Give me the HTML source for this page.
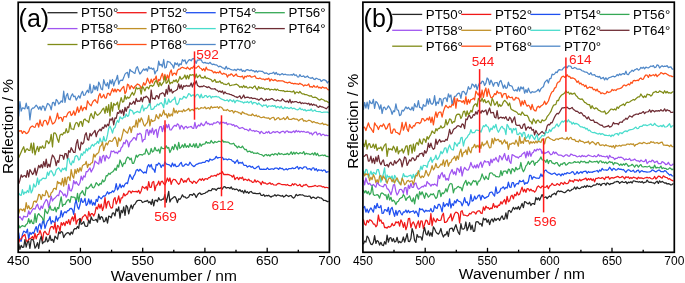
<!DOCTYPE html>
<html><head><meta charset="utf-8"><style>
html,body{margin:0;padding:0;background:#fff;}
svg{display:block;will-change:transform;}
text{font-family:"Liberation Sans",sans-serif;fill:#000;}
</style></head><body>
<svg width="685" height="283" viewBox="0 0 685 283">
<g fill="none" stroke-width="1.25" stroke-linejoin="round">
<path d="M18.7,116.4 L19.9,101.7 L21.2,111.1 L22.4,107.9 L23.7,108.2 L24.9,108.9 L26.2,103.1 L27.4,108.7 L28.7,106.6 L29.9,119.8 L31.2,109.9 L32.5,108.0 L33.7,108.1 L35.0,106.7 L36.2,105.2 L37.5,106.9 L38.7,109.3 L40.0,106.6 L41.2,110.0 L42.5,106.0 L43.7,106.3 L45.0,110.6 L46.2,107.1 L47.5,103.5 L48.7,104.1 L50.0,105.9 L51.2,109.8 L52.5,102.6 L53.7,102.3 L55.0,105.7 L56.2,99.5 L57.5,100.9 L58.7,104.1 L60.0,102.8 L61.2,100.9 L62.5,102.2 L63.7,91.2 L65.0,102.4 L66.2,96.0 L67.5,93.5 L68.7,99.0 L70.0,99.8 L71.2,96.0 L72.5,93.8 L73.7,96.7 L75.0,96.1 L76.2,100.1 L77.5,97.7 L78.7,95.7 L80.0,98.1 L81.2,93.8 L82.5,91.3 L83.7,95.4 L85.0,95.0 L86.2,92.3 L87.5,90.2 L88.7,92.7 L90.0,84.2 L91.2,93.1 L92.5,92.0 L93.7,85.3 L95.0,89.7 L96.2,86.2 L97.5,90.7 L98.7,82.1 L100.0,84.8 L101.2,89.0 L102.5,89.8 L103.7,79.7 L105.0,84.0 L106.2,85.9 L107.5,82.7 L108.7,88.5 L110.0,80.0 L111.2,83.9 L112.5,79.5 L113.7,85.9 L115.0,81.3 L116.2,79.7 L117.5,75.3 L118.7,84.2 L120.0,80.8 L121.2,80.1 L122.5,80.5 L123.7,77.6 L125.0,74.1 L126.2,73.0 L127.5,72.3 L128.7,77.6 L129.9,69.3 L131.2,71.2 L132.4,71.6 L133.7,72.8 L134.9,73.4 L136.2,68.2 L137.4,66.7 L138.7,71.0 L139.9,74.0 L141.2,72.5 L142.4,70.7 L143.7,69.0 L144.9,70.4 L146.2,68.7 L147.4,71.2 L148.7,66.6 L149.9,68.8 L151.2,67.9 L152.4,69.3 L153.7,68.2 L154.9,73.9 L156.2,70.9 L157.4,70.6 L158.7,61.2 L159.9,65.3 L161.2,64.3 L162.4,66.9 L163.7,59.5 L164.9,68.0 L166.2,67.5 L167.4,61.3 L168.7,61.9 L169.9,62.1 L171.2,64.0 L172.4,65.1 L173.7,68.2 L174.9,62.7 L176.2,64.6 L177.4,63.0 L178.7,66.2 L179.9,63.7 L181.2,64.7 L182.4,59.6 L183.7,61.1 L184.9,59.8 L186.2,63.8 L187.4,62.0 L188.7,60.1 L189.9,59.6 L191.2,60.9 L192.4,58.9 L193.7,58.5 L194.9,60.6 L196.2,63.4 L197.4,60.0 L198.7,60.0 L199.9,59.6 L201.2,59.8 L202.4,62.3 L203.7,63.0 L204.9,62.4 L206.2,63.1 L207.4,63.2 L208.7,63.6 L209.9,62.3 L211.2,63.7 L212.4,64.6 L213.7,64.1 L214.9,64.8 L216.2,64.8 L217.4,65.6 L218.7,66.9 L219.9,66.1 L221.2,66.7 L222.4,67.8 L223.7,68.0 L224.9,69.2 L226.2,66.3 L227.4,69.1 L228.7,68.2 L229.9,69.0 L231.2,69.7 L232.4,70.0 L233.7,70.1 L234.9,69.4 L236.2,70.7 L237.4,69.1 L238.7,69.3 L239.9,70.2 L241.2,69.1 L242.4,71.4 L243.7,70.5 L244.9,71.6 L246.2,69.8 L247.4,69.6 L248.7,70.1 L249.9,70.7 L251.2,69.8 L252.4,70.8 L253.7,70.7 L254.9,72.2 L256.2,70.6 L257.4,72.2 L258.7,71.0 L259.9,71.0 L261.2,71.4 L262.4,71.3 L263.7,72.6 L264.9,73.5 L266.2,72.9 L267.4,73.5 L268.7,74.4 L269.9,73.4 L271.2,73.5 L272.4,73.2 L273.7,72.2 L274.9,74.3 L276.2,72.4 L277.4,74.5 L278.7,74.0 L279.9,75.1 L281.2,74.2 L282.4,73.7 L283.7,74.8 L284.9,74.2 L286.2,74.6 L287.4,74.9 L288.7,74.9 L289.9,75.0 L291.2,74.6 L292.4,75.2 L293.7,73.8 L294.9,75.5 L296.2,74.8 L297.4,76.8 L298.7,77.0 L299.9,74.6 L301.2,76.5 L302.4,76.4 L303.7,75.9 L304.9,77.4 L306.2,76.9 L307.4,76.0 L308.7,77.5 L309.9,77.8 L311.2,78.3 L312.4,77.4 L313.7,79.1 L314.9,79.5 L316.2,78.2 L317.4,78.8 L318.7,79.5 L319.9,79.3 L321.2,81.4 L322.4,80.4 L323.7,79.7 L324.9,80.1 L326.2,80.9 L327.4,83.0 L328.7,81.2" stroke="#5088C8"/>
<path d="M18.7,130.4 L19.9,131.3 L21.2,130.6 L22.4,133.4 L23.7,131.2 L24.9,131.9 L26.2,133.6 L27.4,133.2 L28.7,131.5 L29.9,128.1 L31.2,126.6 L32.5,126.0 L33.7,127.0 L35.0,127.4 L36.2,124.1 L37.5,123.1 L38.7,127.1 L40.0,119.9 L41.2,124.7 L42.5,126.1 L43.7,121.2 L45.0,120.3 L46.2,121.0 L47.5,124.8 L48.7,122.0 L50.0,116.1 L51.2,120.1 L52.5,124.0 L53.7,123.4 L55.0,121.8 L56.2,118.6 L57.5,113.2 L58.7,118.8 L60.0,117.3 L61.2,117.5 L62.5,121.4 L63.7,116.8 L65.0,116.5 L66.2,117.0 L67.5,113.9 L68.7,112.2 L70.0,111.5 L71.2,115.5 L72.5,114.3 L73.7,110.9 L75.0,115.3 L76.2,112.0 L77.5,107.0 L78.7,112.4 L80.0,109.8 L81.2,105.8 L82.5,110.8 L83.7,107.9 L85.0,107.3 L86.2,109.7 L87.5,100.9 L88.7,103.0 L90.0,104.8 L91.2,105.9 L92.5,102.4 L93.7,100.7 L95.0,99.7 L96.2,101.6 L97.5,103.1 L98.7,96.1 L100.0,93.5 L101.2,97.8 L102.5,96.8 L103.7,94.5 L105.0,98.1 L106.2,98.0 L107.5,93.4 L108.7,93.4 L110.0,95.4 L111.2,92.0 L112.5,88.7 L113.7,91.9 L115.0,89.0 L116.2,92.0 L117.5,89.3 L118.7,89.8 L120.0,91.5 L121.2,89.4 L122.5,87.7 L123.7,86.4 L125.0,93.6 L126.2,91.6 L127.5,84.2 L128.7,85.1 L129.9,89.2 L131.2,85.7 L132.4,86.9 L133.7,88.7 L134.9,86.4 L136.2,85.3 L137.4,84.0 L138.7,84.6 L139.9,85.5 L141.2,88.6 L142.4,86.4 L143.7,82.7 L144.9,85.2 L146.2,82.7 L147.4,78.1 L148.7,81.3 L149.9,83.7 L151.2,79.2 L152.4,82.8 L153.7,79.1 L154.9,79.6 L156.2,76.0 L157.4,84.0 L158.7,79.4 L159.9,80.4 L161.2,76.3 L162.4,73.3 L163.7,79.7 L164.9,74.4 L166.2,80.0 L167.4,75.0 L168.7,79.1 L169.9,72.8 L171.2,69.9 L172.4,75.5 L173.7,73.3 L174.9,73.1 L176.2,75.0 L177.4,70.4 L178.7,69.2 L179.9,69.1 L181.2,67.8 L182.4,67.2 L183.7,67.9 L184.9,68.2 L186.2,68.8 L187.4,67.1 L188.7,68.6 L189.9,69.6 L191.2,67.6 L192.4,68.3 L193.7,66.1 L194.9,67.8 L196.2,68.1 L197.4,66.8 L198.7,66.0 L199.9,68.0 L201.2,68.5 L202.4,70.4 L203.7,68.6 L204.9,71.1 L206.2,67.2 L207.4,69.7 L208.7,69.8 L209.9,70.2 L211.2,70.4 L212.4,71.1 L213.7,72.9 L214.9,71.7 L216.2,73.1 L217.4,72.3 L218.7,72.9 L219.9,71.1 L221.2,73.5 L222.4,74.3 L223.7,73.2 L224.9,74.1 L226.2,74.2 L227.4,77.1 L228.7,74.8 L229.9,75.2 L231.2,73.8 L232.4,74.8 L233.7,76.3 L234.9,75.2 L236.2,74.0 L237.4,76.1 L238.7,76.5 L239.9,76.6 L241.2,76.8 L242.4,76.0 L243.7,78.9 L244.9,76.2 L246.2,77.0 L247.4,75.7 L248.7,76.3 L249.9,75.6 L251.2,77.2 L252.4,76.8 L253.7,76.5 L254.9,75.8 L256.2,78.1 L257.4,78.4 L258.7,78.6 L259.9,78.0 L261.2,78.8 L262.4,79.2 L263.7,79.0 L264.9,79.9 L266.2,78.8 L267.4,79.3 L268.7,78.1 L269.9,81.2 L271.2,79.1 L272.4,80.1 L273.7,80.6 L274.9,79.6 L276.2,80.4 L277.4,81.2 L278.7,80.7 L279.9,80.8 L281.2,80.9 L282.4,80.8 L283.7,81.4 L284.9,82.1 L286.2,82.3 L287.4,83.0 L288.7,82.4 L289.9,82.1 L291.2,83.4 L292.4,83.2 L293.7,83.9 L294.9,83.4 L296.2,83.9 L297.4,83.9 L298.7,84.4 L299.9,83.2 L301.2,84.2 L302.4,84.6 L303.7,86.1 L304.9,84.9 L306.2,85.5 L307.4,85.2 L308.7,84.0 L309.9,86.9 L311.2,86.6 L312.4,87.3 L313.7,85.5 L314.9,87.0 L316.2,87.2 L317.4,86.0 L318.7,87.9 L319.9,87.2 L321.2,88.4 L322.4,86.9 L323.7,87.7 L324.9,88.1 L326.2,87.7 L327.4,89.1 L328.7,90.3" stroke="#FF5018"/>
<path d="M18.7,157.7 L19.9,155.0 L21.2,151.9 L22.4,149.2 L23.7,146.7 L24.9,152.4 L26.2,149.4 L27.4,148.8 L28.7,150.4 L29.9,150.5 L31.2,143.1 L32.5,152.8 L33.7,143.0 L35.0,154.8 L36.2,150.2 L37.5,146.4 L38.7,151.5 L40.0,146.7 L41.2,148.2 L42.5,145.8 L43.7,148.3 L45.0,147.6 L46.2,140.9 L47.5,141.2 L48.7,143.6 L50.0,141.3 L51.2,134.3 L52.5,146.9 L53.7,133.2 L55.0,132.8 L56.2,134.5 L57.5,139.3 L58.7,142.3 L60.0,135.3 L61.2,134.1 L62.5,135.0 L63.7,132.6 L65.0,133.2 L66.2,128.7 L67.5,132.7 L68.7,131.8 L70.0,122.6 L71.2,128.9 L72.5,129.0 L73.7,129.5 L75.0,124.7 L76.2,122.5 L77.5,123.0 L78.7,126.7 L80.0,121.9 L81.2,121.5 L82.5,126.4 L83.7,120.0 L85.0,119.0 L86.2,120.7 L87.5,120.9 L88.7,122.6 L90.0,116.3 L91.2,113.5 L92.5,117.0 L93.7,118.5 L95.0,111.6 L96.2,113.8 L97.5,115.3 L98.7,114.4 L100.0,113.2 L101.2,111.5 L102.5,109.2 L103.7,108.1 L105.0,113.4 L106.2,106.3 L107.5,112.4 L108.7,104.6 L110.0,116.0 L111.2,102.3 L112.5,111.2 L113.7,103.5 L115.0,105.1 L116.2,104.5 L117.5,102.1 L118.7,109.3 L120.0,102.4 L121.2,97.6 L122.5,102.2 L123.7,101.5 L125.0,95.4 L126.2,99.2 L127.5,97.0 L128.7,98.2 L129.9,97.1 L131.2,94.3 L132.4,92.4 L133.7,95.2 L134.9,92.8 L136.2,87.2 L137.4,89.0 L138.7,88.4 L139.9,88.2 L141.2,94.2 L142.4,86.5 L143.7,88.2 L144.9,90.9 L146.2,87.5 L147.4,87.0 L148.7,88.9 L149.9,85.7 L151.2,85.3 L152.4,86.3 L153.7,85.2 L154.9,82.1 L156.2,80.5 L157.4,82.9 L158.7,86.5 L159.9,82.2 L161.2,85.6 L162.4,83.7 L163.7,81.9 L164.9,76.1 L166.2,83.4 L167.4,82.2 L168.7,78.8 L169.9,84.0 L171.2,82.4 L172.4,83.0 L173.7,80.2 L174.9,81.6 L176.2,79.7 L177.4,82.6 L178.7,80.1 L179.9,76.4 L181.2,79.3 L182.4,78.6 L183.7,77.6 L184.9,75.0 L186.2,79.0 L187.4,75.3 L188.7,78.8 L189.9,74.6 L191.2,75.3 L192.4,74.7 L193.7,74.8 L194.9,78.3 L196.2,74.0 L197.4,77.7 L198.7,76.2 L199.9,75.0 L201.2,77.8 L202.4,77.7 L203.7,78.2 L204.9,76.1 L206.2,78.5 L207.4,78.0 L208.7,78.7 L209.9,79.1 L211.2,79.7 L212.4,81.6 L213.7,80.9 L214.9,79.4 L216.2,82.4 L217.4,81.8 L218.7,82.2 L219.9,80.9 L221.2,83.1 L222.4,82.7 L223.7,84.2 L224.9,84.1 L226.2,84.7 L227.4,84.0 L228.7,83.1 L229.9,85.7 L231.2,85.4 L232.4,85.0 L233.7,84.9 L234.9,84.7 L236.2,84.1 L237.4,84.8 L238.7,85.8 L239.9,87.3 L241.2,86.5 L242.4,87.6 L243.7,85.5 L244.9,87.5 L246.2,86.3 L247.4,88.0 L248.7,87.9 L249.9,87.0 L251.2,87.3 L252.4,88.3 L253.7,86.8 L254.9,85.9 L256.2,88.5 L257.4,89.8 L258.7,86.6 L259.9,88.5 L261.2,87.5 L262.4,88.4 L263.7,88.0 L264.9,89.7 L266.2,88.7 L267.4,89.1 L268.7,88.5 L269.9,90.2 L271.2,89.3 L272.4,89.5 L273.7,89.9 L274.9,88.9 L276.2,90.3 L277.4,89.1 L278.7,90.4 L279.9,90.5 L281.2,90.5 L282.4,90.8 L283.7,90.6 L284.9,91.7 L286.2,91.4 L287.4,91.2 L288.7,91.5 L289.9,91.3 L291.2,91.9 L292.4,91.9 L293.7,90.8 L294.9,93.8 L296.2,92.2 L297.4,92.2 L298.7,93.1 L299.9,91.4 L301.2,93.1 L302.4,94.0 L303.7,93.9 L304.9,94.6 L306.2,94.6 L307.4,95.0 L308.7,95.7 L309.9,96.2 L311.2,95.6 L312.4,97.1 L313.7,97.5 L314.9,97.1 L316.2,97.6 L317.4,98.5 L318.7,99.7 L319.9,100.1 L321.2,98.9 L322.4,99.5 L323.7,99.9 L324.9,101.0 L326.2,101.0 L327.4,101.7 L328.7,102.7" stroke="#808C18"/>
<path d="M18.7,183.8 L19.9,180.2 L21.2,174.8 L22.4,177.1 L23.7,175.9 L24.9,175.5 L26.2,177.3 L27.4,170.6 L28.7,177.0 L29.9,169.6 L31.2,171.8 L32.5,174.5 L33.7,173.0 L35.0,168.1 L36.2,175.1 L37.5,170.1 L38.7,165.3 L40.0,167.8 L41.2,164.5 L42.5,167.8 L43.7,161.6 L45.0,166.7 L46.2,159.1 L47.5,167.3 L48.7,164.1 L50.0,166.9 L51.2,159.9 L52.5,155.0 L53.7,156.6 L55.0,159.4 L56.2,165.6 L57.5,160.7 L58.7,162.3 L60.0,155.0 L61.2,155.5 L62.5,155.4 L63.7,159.4 L65.0,153.5 L66.2,153.7 L67.5,158.9 L68.7,150.7 L70.0,152.4 L71.2,147.7 L72.5,150.1 L73.7,152.4 L75.0,152.5 L76.2,143.9 L77.5,139.6 L78.7,147.8 L80.0,150.2 L81.2,142.2 L82.5,144.1 L83.7,142.5 L85.0,135.1 L86.2,132.7 L87.5,139.4 L88.7,140.1 L90.0,133.3 L91.2,135.9 L92.5,133.7 L93.7,132.3 L95.0,130.4 L96.2,136.7 L97.5,132.4 L98.7,130.8 L100.0,129.1 L101.2,130.8 L102.5,127.3 L103.7,128.3 L105.0,124.7 L106.2,127.0 L107.5,124.2 L108.7,125.8 L110.0,118.8 L111.2,120.1 L112.5,117.9 L113.7,124.9 L115.0,117.8 L116.2,118.3 L117.5,112.5 L118.7,113.4 L120.0,110.1 L121.2,113.3 L122.5,109.6 L123.7,115.3 L125.0,107.3 L126.2,111.3 L127.5,106.9 L128.7,107.6 L129.9,102.7 L131.2,104.3 L132.4,103.4 L133.7,101.2 L134.9,104.4 L136.2,98.4 L137.4,101.5 L138.7,100.9 L139.9,101.3 L141.2,97.5 L142.4,101.9 L143.7,97.2 L144.9,97.6 L146.2,96.2 L147.4,97.2 L148.7,98.8 L149.9,104.9 L151.2,90.0 L152.4,98.8 L153.7,98.2 L154.9,99.3 L156.2,95.7 L157.4,95.8 L158.7,98.7 L159.9,94.0 L161.2,93.7 L162.4,92.8 L163.7,93.5 L164.9,96.4 L166.2,89.3 L167.4,94.2 L168.7,85.1 L169.9,91.7 L171.2,89.2 L172.4,93.0 L173.7,91.5 L174.9,91.0 L176.2,90.2 L177.4,89.3 L178.7,83.9 L179.9,88.5 L181.2,84.9 L182.4,89.3 L183.7,85.7 L184.9,86.6 L186.2,85.4 L187.4,86.1 L188.7,85.9 L189.9,86.1 L191.2,83.0 L192.4,87.0 L193.7,82.9 L194.9,84.2 L196.2,80.9 L197.4,85.2 L198.7,86.4 L199.9,86.9 L201.2,86.4 L202.4,86.7 L203.7,85.7 L204.9,86.3 L206.2,86.9 L207.4,87.6 L208.7,86.7 L209.9,87.7 L211.2,88.9 L212.4,88.9 L213.7,89.0 L214.9,88.7 L216.2,90.0 L217.4,90.3 L218.7,91.8 L219.9,91.0 L221.2,92.3 L222.4,90.8 L223.7,93.9 L224.9,91.8 L226.2,93.3 L227.4,93.6 L228.7,93.8 L229.9,94.4 L231.2,94.6 L232.4,95.4 L233.7,95.7 L234.9,96.6 L236.2,96.9 L237.4,97.6 L238.7,96.7 L239.9,95.8 L241.2,98.7 L242.4,97.4 L243.7,95.0 L244.9,98.0 L246.2,97.4 L247.4,97.2 L248.7,97.4 L249.9,98.2 L251.2,97.6 L252.4,98.6 L253.7,98.3 L254.9,98.4 L256.2,99.0 L257.4,99.0 L258.7,100.2 L259.9,99.3 L261.2,98.2 L262.4,99.1 L263.7,100.6 L264.9,100.7 L266.2,98.8 L267.4,100.1 L268.7,99.3 L269.9,99.6 L271.2,98.7 L272.4,98.7 L273.7,99.9 L274.9,100.5 L276.2,100.8 L277.4,99.9 L278.7,100.5 L279.9,100.9 L281.2,100.8 L282.4,98.8 L283.7,100.3 L284.9,101.4 L286.2,101.9 L287.4,100.8 L288.7,102.5 L289.9,99.4 L291.2,103.0 L292.4,101.5 L293.7,102.2 L294.9,101.5 L296.2,101.5 L297.4,102.3 L298.7,102.7 L299.9,101.9 L301.2,103.7 L302.4,102.8 L303.7,103.5 L304.9,103.0 L306.2,103.3 L307.4,104.0 L308.7,103.2 L309.9,105.1 L311.2,103.7 L312.4,105.3 L313.7,104.2 L314.9,105.2 L316.2,105.0 L317.4,106.8 L318.7,107.4 L319.9,105.9 L321.2,106.8 L322.4,106.9 L323.7,107.5 L324.9,108.0 L326.2,108.8 L327.4,107.6 L328.7,106.2" stroke="#6E2C34"/>
<path d="M18.7,193.2 L19.9,194.9 L21.2,195.4 L22.4,189.6 L23.7,194.3 L24.9,192.0 L26.2,192.9 L27.4,190.5 L28.7,192.5 L29.9,185.1 L31.2,192.9 L32.5,190.3 L33.7,183.9 L35.0,187.1 L36.2,185.6 L37.5,178.0 L38.7,184.5 L40.0,180.0 L41.2,180.2 L42.5,178.3 L43.7,178.1 L45.0,178.8 L46.2,178.1 L47.5,172.2 L48.7,175.4 L50.0,171.3 L51.2,170.7 L52.5,172.8 L53.7,175.8 L55.0,174.4 L56.2,169.9 L57.5,168.8 L58.7,167.8 L60.0,170.1 L61.2,171.8 L62.5,168.3 L63.7,169.6 L65.0,167.8 L66.2,170.7 L67.5,159.4 L68.7,158.3 L70.0,163.3 L71.2,165.0 L72.5,161.0 L73.7,162.5 L75.0,156.8 L76.2,155.6 L77.5,156.3 L78.7,160.1 L80.0,158.7 L81.2,153.6 L82.5,155.3 L83.7,151.9 L85.0,153.0 L86.2,148.7 L87.5,150.9 L88.7,147.9 L90.0,148.9 L91.2,146.0 L92.5,144.5 L93.7,146.2 L95.0,143.8 L96.2,143.8 L97.5,141.4 L98.7,143.4 L100.0,138.2 L101.2,141.7 L102.5,142.3 L103.7,136.5 L105.0,141.2 L106.2,140.7 L107.5,134.9 L108.7,128.4 L110.0,126.3 L111.2,129.0 L112.5,133.1 L113.7,128.4 L115.0,127.5 L116.2,123.3 L117.5,120.5 L118.7,122.3 L120.0,116.8 L121.2,118.0 L122.5,118.9 L123.7,116.7 L125.0,117.3 L126.2,114.0 L127.5,116.4 L128.7,115.4 L129.9,109.3 L131.2,110.4 L132.4,110.8 L133.7,114.1 L134.9,112.6 L136.2,112.1 L137.4,111.4 L138.7,112.2 L139.9,112.7 L141.2,108.3 L142.4,105.2 L143.7,110.9 L144.9,108.2 L146.2,108.5 L147.4,107.6 L148.7,104.7 L149.9,103.4 L151.2,109.5 L152.4,109.4 L153.7,108.6 L154.9,106.4 L156.2,106.2 L157.4,104.1 L158.7,105.0 L159.9,103.4 L161.2,102.7 L162.4,104.3 L163.7,107.7 L164.9,98.3 L166.2,104.2 L167.4,104.0 L168.7,99.0 L169.9,102.4 L171.2,101.6 L172.4,99.9 L173.7,99.5 L174.9,97.1 L176.2,103.8 L177.4,104.7 L178.7,102.7 L179.9,98.4 L181.2,99.2 L182.4,99.0 L183.7,96.4 L184.9,97.1 L186.2,98.2 L187.4,96.2 L188.7,93.6 L189.9,94.2 L191.2,96.3 L192.4,95.1 L193.7,94.9 L194.9,97.2 L196.2,95.3 L197.4,94.3 L198.7,95.2 L199.9,98.0 L201.2,94.2 L202.4,97.7 L203.7,97.3 L204.9,95.6 L206.2,95.5 L207.4,97.4 L208.7,96.3 L209.9,95.7 L211.2,98.0 L212.4,96.5 L213.7,96.8 L214.9,96.6 L216.2,96.4 L217.4,97.0 L218.7,96.9 L219.9,98.0 L221.2,98.9 L222.4,99.4 L223.7,99.9 L224.9,100.6 L226.2,100.4 L227.4,99.8 L228.7,101.5 L229.9,99.6 L231.2,100.6 L232.4,101.6 L233.7,100.0 L234.9,102.8 L236.2,100.7 L237.4,100.4 L238.7,101.1 L239.9,101.2 L241.2,101.9 L242.4,101.9 L243.7,103.0 L244.9,102.0 L246.2,102.4 L247.4,101.5 L248.7,102.9 L249.9,102.0 L251.2,101.2 L252.4,104.1 L253.7,102.4 L254.9,102.6 L256.2,103.0 L257.4,104.6 L258.7,103.0 L259.9,104.2 L261.2,105.2 L262.4,106.6 L263.7,105.0 L264.9,105.5 L266.2,104.9 L267.4,107.4 L268.7,105.8 L269.9,106.0 L271.2,106.3 L272.4,105.6 L273.7,106.4 L274.9,105.5 L276.2,107.9 L277.4,106.7 L278.7,106.8 L279.9,108.0 L281.2,106.2 L282.4,108.4 L283.7,108.7 L284.9,106.9 L286.2,108.2 L287.4,107.7 L288.7,108.6 L289.9,108.1 L291.2,107.4 L292.4,108.8 L293.7,108.2 L294.9,108.7 L296.2,109.5 L297.4,109.8 L298.7,109.4 L299.9,107.9 L301.2,109.7 L302.4,109.1 L303.7,110.4 L304.9,109.5 L306.2,111.0 L307.4,110.4 L308.7,110.1 L309.9,110.5 L311.2,109.0 L312.4,111.1 L313.7,110.8 L314.9,110.0 L316.2,111.4 L317.4,111.5 L318.7,111.7 L319.9,111.5 L321.2,112.3 L322.4,112.5 L323.7,112.1 L324.9,112.1 L326.2,112.0 L327.4,112.0 L328.7,113.1" stroke="#48DCCC"/>
<path d="M18.7,213.7 L19.9,209.2 L21.2,209.2 L22.4,210.6 L23.7,208.8 L24.9,211.7 L26.2,202.7 L27.4,208.7 L28.7,205.7 L29.9,209.0 L31.2,208.4 L32.5,206.7 L33.7,201.6 L35.0,201.0 L36.2,202.4 L37.5,199.6 L38.7,194.3 L40.0,194.8 L41.2,199.5 L42.5,194.3 L43.7,195.7 L45.0,195.7 L46.2,190.5 L47.5,192.7 L48.7,197.1 L50.0,196.4 L51.2,192.7 L52.5,191.8 L53.7,188.5 L55.0,188.3 L56.2,189.5 L57.5,181.3 L58.7,183.5 L60.0,182.6 L61.2,185.0 L62.5,178.3 L63.7,186.2 L65.0,177.3 L66.2,184.6 L67.5,177.4 L68.7,176.9 L70.0,180.6 L71.2,169.5 L72.5,175.9 L73.7,178.1 L75.0,169.4 L76.2,173.6 L77.5,168.7 L78.7,172.2 L80.0,167.7 L81.2,171.1 L82.5,165.7 L83.7,164.6 L85.0,164.4 L86.2,161.4 L87.5,167.5 L88.7,164.2 L90.0,164.8 L91.2,163.0 L92.5,162.6 L93.7,154.1 L95.0,157.1 L96.2,154.4 L97.5,153.6 L98.7,152.4 L100.0,146.6 L101.2,145.6 L102.5,142.2 L103.7,150.6 L105.0,146.2 L106.2,143.0 L107.5,144.9 L108.7,141.6 L110.0,140.6 L111.2,141.4 L112.5,141.1 L113.7,138.6 L115.0,137.2 L116.2,140.0 L117.5,146.4 L118.7,137.8 L120.0,141.1 L121.2,139.7 L122.5,134.4 L123.7,129.1 L125.0,131.0 L126.2,132.1 L127.5,133.2 L128.7,129.4 L129.9,126.7 L131.2,132.5 L132.4,127.2 L133.7,126.1 L134.9,127.1 L136.2,120.2 L137.4,127.2 L138.7,118.9 L139.9,122.1 L141.2,117.9 L142.4,120.1 L143.7,124.6 L144.9,126.1 L146.2,123.8 L147.4,122.5 L148.7,115.5 L149.9,126.0 L151.2,119.3 L152.4,121.4 L153.7,120.9 L154.9,120.4 L156.2,114.6 L157.4,117.3 L158.7,118.7 L159.9,113.9 L161.2,116.4 L162.4,114.5 L163.7,110.2 L164.9,114.8 L166.2,113.8 L167.4,117.8 L168.7,113.4 L169.9,116.3 L171.2,114.0 L172.4,115.8 L173.7,108.1 L174.9,112.9 L176.2,110.5 L177.4,113.3 L178.7,110.9 L179.9,111.3 L181.2,111.0 L182.4,111.9 L183.7,109.5 L184.9,111.3 L186.2,110.4 L187.4,109.8 L188.7,108.5 L189.9,111.1 L191.2,109.8 L192.4,109.4 L193.7,110.5 L194.9,108.0 L196.2,108.9 L197.4,107.8 L198.7,109.3 L199.9,108.7 L201.2,107.6 L202.4,108.0 L203.7,108.2 L204.9,106.9 L206.2,108.8 L207.4,108.1 L208.7,107.7 L209.9,109.0 L211.2,106.3 L212.4,107.9 L213.7,107.4 L214.9,107.2 L216.2,107.3 L217.4,106.7 L218.7,108.4 L219.9,106.7 L221.2,107.3 L222.4,108.2 L223.7,110.4 L224.9,110.0 L226.2,110.5 L227.4,109.4 L228.7,110.6 L229.9,111.4 L231.2,110.7 L232.4,110.6 L233.7,113.0 L234.9,111.2 L236.2,111.7 L237.4,111.8 L238.7,112.8 L239.9,112.8 L241.2,114.4 L242.4,111.8 L243.7,112.9 L244.9,113.6 L246.2,113.9 L247.4,114.4 L248.7,115.2 L249.9,115.2 L251.2,115.5 L252.4,114.0 L253.7,115.3 L254.9,116.0 L256.2,115.0 L257.4,116.7 L258.7,116.0 L259.9,117.0 L261.2,117.7 L262.4,117.4 L263.7,116.9 L264.9,117.6 L266.2,117.8 L267.4,118.2 L268.7,117.9 L269.9,119.4 L271.2,118.2 L272.4,117.5 L273.7,117.3 L274.9,120.1 L276.2,119.2 L277.4,118.0 L278.7,117.7 L279.9,119.7 L281.2,119.2 L282.4,118.9 L283.7,117.7 L284.9,119.7 L286.2,118.6 L287.4,116.6 L288.7,119.1 L289.9,119.3 L291.2,119.5 L292.4,118.8 L293.7,118.3 L294.9,119.2 L296.2,119.0 L297.4,119.4 L298.7,120.9 L299.9,119.6 L301.2,119.0 L302.4,118.7 L303.7,121.1 L304.9,120.5 L306.2,121.5 L307.4,121.0 L308.7,120.2 L309.9,120.5 L311.2,121.3 L312.4,122.5 L313.7,121.6 L314.9,122.3 L316.2,122.9 L317.4,122.7 L318.7,123.5 L319.9,123.8 L321.2,123.8 L322.4,123.0 L323.7,124.7 L324.9,124.1 L326.2,124.4 L327.4,125.3 L328.7,124.9" stroke="#C09028"/>
<path d="M18.7,217.7 L19.9,216.7 L21.2,218.5 L22.4,220.0 L23.7,216.1 L24.9,216.7 L26.2,216.8 L27.4,216.5 L28.7,210.8 L29.9,214.3 L31.2,212.0 L32.5,209.5 L33.7,208.5 L35.0,209.2 L36.2,206.2 L37.5,204.1 L38.7,208.2 L40.0,209.8 L41.2,206.0 L42.5,208.4 L43.7,204.3 L45.0,201.8 L46.2,199.5 L47.5,201.1 L48.7,207.5 L50.0,201.7 L51.2,196.1 L52.5,201.0 L53.7,199.0 L55.0,197.9 L56.2,196.6 L57.5,195.1 L58.7,195.7 L60.0,190.4 L61.2,191.6 L62.5,193.2 L63.7,195.7 L65.0,193.9 L66.2,197.2 L67.5,194.4 L68.7,184.3 L70.0,190.5 L71.2,191.0 L72.5,187.7 L73.7,180.5 L75.0,183.9 L76.2,181.6 L77.5,184.1 L78.7,185.3 L80.0,182.5 L81.2,176.1 L82.5,180.0 L83.7,175.9 L85.0,177.1 L86.2,171.7 L87.5,171.7 L88.7,169.6 L90.0,168.0 L91.2,172.1 L92.5,169.4 L93.7,167.2 L95.0,161.0 L96.2,162.1 L97.5,163.3 L98.7,164.1 L100.0,156.5 L101.2,163.0 L102.5,156.4 L103.7,155.3 L105.0,161.0 L106.2,155.4 L107.5,157.4 L108.7,158.5 L110.0,156.6 L111.2,151.0 L112.5,151.7 L113.7,150.9 L115.0,153.0 L116.2,152.1 L117.5,153.5 L118.7,151.1 L120.0,151.6 L121.2,147.7 L122.5,146.5 L123.7,142.3 L125.0,143.8 L126.2,140.0 L127.5,141.4 L128.7,146.8 L129.9,142.4 L131.2,141.0 L132.4,139.6 L133.7,137.7 L134.9,137.9 L136.2,140.2 L137.4,133.9 L138.7,134.4 L139.9,133.2 L141.2,134.4 L142.4,141.9 L143.7,139.5 L144.9,139.4 L146.2,130.3 L147.4,129.6 L148.7,135.4 L149.9,130.1 L151.2,132.9 L152.4,128.1 L153.7,134.3 L154.9,130.6 L156.2,129.5 L157.4,137.5 L158.7,130.2 L159.9,126.6 L161.2,126.5 L162.4,131.6 L163.7,125.7 L164.9,131.8 L166.2,124.5 L167.4,127.9 L168.7,124.3 L169.9,129.8 L171.2,130.0 L172.4,128.1 L173.7,126.2 L174.9,125.3 L176.2,126.3 L177.4,123.8 L178.7,124.9 L179.9,129.2 L181.2,125.4 L182.4,126.4 L183.7,129.1 L184.9,127.0 L186.2,126.3 L187.4,128.1 L188.7,127.0 L189.9,126.8 L191.2,126.4 L192.4,128.2 L193.7,128.4 L194.9,122.4 L196.2,128.3 L197.4,126.5 L198.7,124.8 L199.9,126.1 L201.2,123.1 L202.4,124.9 L203.7,125.7 L204.9,123.8 L206.2,121.5 L207.4,123.9 L208.7,123.3 L209.9,124.8 L211.2,124.0 L212.4,124.8 L213.7,122.8 L214.9,123.2 L216.2,122.9 L217.4,121.6 L218.7,122.2 L219.9,124.1 L221.2,121.4 L222.4,122.6 L223.7,122.3 L224.9,123.4 L226.2,122.4 L227.4,124.7 L228.7,123.8 L229.9,124.0 L231.2,124.2 L232.4,125.3 L233.7,124.6 L234.9,126.5 L236.2,125.6 L237.4,126.4 L238.7,127.9 L239.9,128.5 L241.2,127.8 L242.4,127.5 L243.7,128.4 L244.9,129.5 L246.2,129.3 L247.4,130.0 L248.7,130.9 L249.9,128.7 L251.2,130.5 L252.4,130.8 L253.7,130.5 L254.9,131.6 L256.2,130.7 L257.4,131.3 L258.7,131.5 L259.9,133.6 L261.2,131.3 L262.4,132.4 L263.7,133.5 L264.9,133.3 L266.2,131.8 L267.4,132.9 L268.7,131.3 L269.9,133.4 L271.2,133.2 L272.4,132.2 L273.7,131.7 L274.9,132.6 L276.2,131.8 L277.4,131.5 L278.7,132.4 L279.9,133.1 L281.2,131.8 L282.4,131.4 L283.7,131.3 L284.9,133.0 L286.2,131.1 L287.4,131.0 L288.7,132.3 L289.9,131.9 L291.2,132.6 L292.4,131.9 L293.7,130.9 L294.9,132.5 L296.2,130.3 L297.4,131.8 L298.7,131.0 L299.9,132.2 L301.2,131.2 L302.4,131.8 L303.7,131.4 L304.9,132.0 L306.2,132.4 L307.4,131.9 L308.7,132.2 L309.9,133.8 L311.2,132.8 L312.4,135.0 L313.7,133.2 L314.9,132.2 L316.2,132.1 L317.4,134.9 L318.7,133.6 L319.9,133.3 L321.2,135.7 L322.4,134.4 L323.7,134.4 L324.9,135.6 L326.2,135.1 L327.4,135.6 L328.7,135.5" stroke="#A055F0"/>
<path d="M18.7,225.0 L19.9,227.9 L21.2,226.4 L22.4,225.6 L23.7,226.2 L24.9,226.6 L26.2,224.4 L27.4,223.6 L28.7,218.7 L29.9,223.4 L31.2,219.9 L32.5,223.3 L33.7,223.6 L35.0,213.7 L36.2,222.3 L37.5,215.4 L38.7,213.6 L40.0,215.5 L41.2,216.5 L42.5,218.1 L43.7,223.1 L45.0,209.2 L46.2,211.9 L47.5,213.6 L48.7,210.2 L50.0,205.9 L51.2,209.8 L52.5,209.8 L53.7,210.3 L55.0,207.2 L56.2,211.8 L57.5,207.6 L58.7,208.6 L60.0,202.3 L61.2,196.9 L62.5,206.3 L63.7,204.3 L65.0,204.5 L66.2,202.1 L67.5,200.0 L68.7,199.5 L70.0,202.5 L71.2,196.5 L72.5,197.1 L73.7,197.1 L75.0,197.5 L76.2,202.3 L77.5,193.4 L78.7,201.7 L80.0,194.0 L81.2,192.8 L82.5,190.7 L83.7,194.0 L85.0,195.5 L86.2,187.1 L87.5,188.7 L88.7,187.6 L90.0,186.0 L91.2,184.0 L92.5,187.5 L93.7,187.8 L95.0,185.8 L96.2,182.7 L97.5,184.2 L98.7,185.7 L100.0,183.4 L101.2,184.2 L102.5,179.9 L103.7,181.8 L105.0,180.3 L106.2,175.6 L107.5,175.8 L108.7,173.2 L110.0,174.4 L111.2,172.5 L112.5,172.0 L113.7,170.8 L115.0,168.2 L116.2,170.4 L117.5,165.0 L118.7,167.2 L120.0,160.0 L121.2,162.7 L122.5,166.6 L123.7,163.1 L125.0,163.7 L126.2,159.5 L127.5,157.1 L128.7,157.5 L129.9,159.8 L131.2,158.1 L132.4,163.4 L133.7,163.3 L134.9,160.1 L136.2,155.1 L137.4,157.2 L138.7,155.2 L139.9,154.5 L141.2,154.7 L142.4,155.1 L143.7,153.9 L144.9,154.0 L146.2,148.9 L147.4,151.8 L148.7,154.6 L149.9,153.8 L151.2,148.5 L152.4,152.1 L153.7,151.1 L154.9,147.3 L156.2,150.4 L157.4,150.8 L158.7,149.1 L159.9,153.2 L161.2,146.8 L162.4,148.5 L163.7,148.7 L164.9,148.4 L166.2,145.8 L167.4,148.1 L168.7,147.5 L169.9,152.5 L171.2,149.8 L172.4,146.5 L173.7,149.7 L174.9,144.3 L176.2,146.9 L177.4,149.8 L178.7,142.3 L179.9,148.3 L181.2,147.1 L182.4,144.8 L183.7,147.5 L184.9,143.6 L186.2,147.4 L187.4,145.7 L188.7,147.3 L189.9,143.7 L191.2,146.4 L192.4,146.7 L193.7,143.8 L194.9,147.4 L196.2,143.5 L197.4,147.6 L198.7,147.1 L199.9,143.4 L201.2,146.2 L202.4,144.4 L203.7,144.2 L204.9,144.0 L206.2,141.6 L207.4,143.2 L208.7,142.7 L209.9,143.3 L211.2,140.5 L212.4,142.4 L213.7,143.1 L214.9,141.4 L216.2,142.3 L217.4,142.1 L218.7,141.2 L219.9,141.5 L221.2,142.0 L222.4,140.1 L223.7,142.1 L224.9,141.6 L226.2,142.2 L227.4,142.0 L228.7,142.3 L229.9,143.7 L231.2,143.9 L232.4,143.8 L233.7,143.2 L234.9,145.4 L236.2,146.1 L237.4,147.8 L238.7,146.1 L239.9,147.4 L241.2,147.6 L242.4,146.1 L243.7,148.2 L244.9,149.7 L246.2,149.3 L247.4,151.8 L248.7,151.3 L249.9,151.1 L251.2,152.6 L252.4,151.8 L253.7,153.3 L254.9,153.0 L256.2,153.5 L257.4,152.9 L258.7,153.7 L259.9,154.3 L261.2,154.5 L262.4,155.1 L263.7,156.3 L264.9,154.9 L266.2,154.5 L267.4,155.7 L268.7,154.7 L269.9,156.2 L271.2,154.5 L272.4,154.1 L273.7,155.0 L274.9,153.7 L276.2,154.1 L277.4,155.0 L278.7,152.8 L279.9,154.4 L281.2,153.7 L282.4,154.0 L283.7,154.7 L284.9,154.1 L286.2,154.3 L287.4,153.3 L288.7,154.7 L289.9,153.9 L291.2,151.8 L292.4,154.4 L293.7,152.2 L294.9,154.1 L296.2,152.3 L297.4,153.3 L298.7,153.8 L299.9,152.7 L301.2,153.2 L302.4,153.5 L303.7,151.6 L304.9,154.7 L306.2,153.2 L307.4,153.9 L308.7,153.8 L309.9,154.6 L311.2,154.1 L312.4,153.2 L313.7,155.0 L314.9,152.6 L316.2,155.3 L317.4,153.4 L318.7,155.8 L319.9,155.6 L321.2,155.3 L322.4,155.0 L323.7,155.6 L324.9,155.0 L326.2,156.4 L327.4,156.4 L328.7,156.8" stroke="#35A855"/>
<path d="M18.7,232.6 L19.9,240.6 L21.2,241.2 L22.4,234.6 L23.7,231.1 L24.9,231.7 L26.2,232.8 L27.4,229.2 L28.7,239.0 L29.9,232.4 L31.2,234.3 L32.5,232.3 L33.7,233.5 L35.0,229.5 L36.2,226.6 L37.5,232.1 L38.7,225.6 L40.0,223.7 L41.2,229.0 L42.5,221.9 L43.7,220.8 L45.0,228.4 L46.2,224.5 L47.5,220.9 L48.7,219.9 L50.0,216.7 L51.2,223.8 L52.5,220.6 L53.7,222.0 L55.0,222.3 L56.2,216.2 L57.5,221.1 L58.7,217.8 L60.0,217.6 L61.2,210.6 L62.5,216.8 L63.7,213.2 L65.0,211.7 L66.2,212.9 L67.5,210.7 L68.7,210.6 L70.0,208.6 L71.2,208.3 L72.5,209.7 L73.7,214.4 L75.0,203.8 L76.2,200.5 L77.5,206.7 L78.7,209.2 L80.0,204.8 L81.2,198.4 L82.5,202.4 L83.7,201.9 L85.0,198.4 L86.2,205.5 L87.5,203.9 L88.7,198.8 L90.0,204.0 L91.2,199.8 L92.5,205.2 L93.7,202.4 L95.0,205.3 L96.2,199.3 L97.5,201.4 L98.7,196.2 L100.0,197.6 L101.2,198.8 L102.5,197.0 L103.7,195.8 L105.0,196.1 L106.2,194.3 L107.5,191.7 L108.7,194.0 L110.0,192.5 L111.2,192.6 L112.5,190.8 L113.7,192.0 L115.0,189.7 L116.2,183.6 L117.5,189.8 L118.7,187.9 L120.0,184.0 L121.2,187.7 L122.5,185.3 L123.7,186.9 L125.0,184.1 L126.2,182.9 L127.5,183.7 L128.7,178.7 L129.9,174.6 L131.2,177.2 L132.4,179.4 L133.7,176.1 L134.9,174.4 L136.2,170.2 L137.4,169.5 L138.7,171.2 L139.9,169.2 L141.2,170.5 L142.4,171.8 L143.7,173.1 L144.9,172.0 L146.2,173.0 L147.4,166.9 L148.7,164.6 L149.9,167.1 L151.2,164.4 L152.4,168.9 L153.7,169.2 L154.9,172.3 L156.2,164.5 L157.4,165.1 L158.7,163.0 L159.9,164.0 L161.2,167.5 L162.4,165.0 L163.7,165.9 L164.9,162.0 L166.2,163.8 L167.4,164.3 L168.7,164.6 L169.9,165.3 L171.2,166.8 L172.4,163.0 L173.7,166.1 L174.9,164.1 L176.2,166.7 L177.4,166.4 L178.7,165.9 L179.9,163.9 L181.2,162.3 L182.4,166.1 L183.7,166.1 L184.9,164.6 L186.2,163.9 L187.4,165.0 L188.7,165.0 L189.9,162.2 L191.2,164.0 L192.4,165.6 L193.7,166.6 L194.9,165.9 L196.2,164.3 L197.4,164.2 L198.7,163.4 L199.9,163.1 L201.2,163.2 L202.4,162.4 L203.7,162.3 L204.9,162.3 L206.2,160.5 L207.4,160.5 L208.7,161.7 L209.9,158.9 L211.2,159.9 L212.4,160.1 L213.7,159.2 L214.9,158.6 L216.2,156.3 L217.4,158.2 L218.7,157.7 L219.9,157.5 L221.2,157.3 L222.4,157.3 L223.7,159.6 L224.9,159.0 L226.2,159.1 L227.4,159.9 L228.7,159.0 L229.9,159.4 L231.2,159.6 L232.4,161.1 L233.7,161.4 L234.9,163.3 L236.2,161.3 L237.4,160.0 L238.7,163.6 L239.9,162.3 L241.2,163.2 L242.4,162.2 L243.7,165.1 L244.9,165.4 L246.2,165.4 L247.4,167.1 L248.7,166.2 L249.9,165.8 L251.2,167.3 L252.4,166.4 L253.7,168.1 L254.9,168.7 L256.2,167.8 L257.4,166.7 L258.7,166.1 L259.9,169.4 L261.2,169.1 L262.4,169.3 L263.7,169.1 L264.9,169.4 L266.2,169.3 L267.4,167.8 L268.7,169.3 L269.9,169.3 L271.2,168.9 L272.4,168.8 L273.7,169.4 L274.9,168.2 L276.2,168.0 L277.4,168.3 L278.7,169.4 L279.9,167.7 L281.2,168.7 L282.4,168.4 L283.7,169.9 L284.9,169.6 L286.2,168.7 L287.4,169.9 L288.7,168.7 L289.9,168.7 L291.2,168.7 L292.4,167.8 L293.7,168.6 L294.9,168.5 L296.2,167.2 L297.4,166.5 L298.7,169.2 L299.9,167.3 L301.2,167.9 L302.4,168.8 L303.7,167.1 L304.9,166.8 L306.2,167.0 L307.4,169.2 L308.7,168.9 L309.9,168.6 L311.2,170.2 L312.4,168.0 L313.7,167.8 L314.9,170.3 L316.2,168.6 L317.4,171.1 L318.7,169.7 L319.9,170.3 L321.2,170.0 L322.4,171.1 L323.7,170.0 L324.9,170.2 L326.2,172.3 L327.4,171.8 L328.7,171.6" stroke="#1F50F0"/>
<path d="M18.7,242.9 L19.9,239.2 L21.2,239.0 L22.4,236.8 L23.7,235.5 L24.9,234.4 L26.2,240.5 L27.4,242.0 L28.7,239.4 L29.9,238.5 L31.2,238.1 L32.5,236.4 L33.7,239.4 L35.0,233.5 L36.2,238.8 L37.5,234.6 L38.7,234.5 L40.0,230.4 L41.2,234.0 L42.5,241.0 L43.7,232.7 L45.0,231.3 L46.2,233.3 L47.5,234.7 L48.7,234.4 L50.0,228.6 L51.2,226.7 L52.5,226.6 L53.7,229.1 L55.0,222.6 L56.2,232.9 L57.5,225.5 L58.7,226.2 L60.0,231.3 L61.2,222.6 L62.5,225.1 L63.7,222.5 L65.0,225.7 L66.2,221.3 L67.5,223.5 L68.7,219.7 L70.0,224.6 L71.2,219.5 L72.5,216.8 L73.7,221.0 L75.0,213.5 L76.2,224.1 L77.5,220.3 L78.7,219.4 L80.0,218.4 L81.2,221.2 L82.5,217.3 L83.7,216.1 L85.0,214.6 L86.2,216.4 L87.5,220.0 L88.7,211.5 L90.0,216.4 L91.2,213.7 L92.5,213.7 L93.7,216.0 L95.0,212.9 L96.2,207.1 L97.5,209.0 L98.7,204.2 L100.0,208.2 L101.2,204.1 L102.5,210.5 L103.7,206.8 L105.0,197.5 L106.2,208.1 L107.5,202.1 L108.7,201.2 L110.0,206.0 L111.2,208.1 L112.5,207.7 L113.7,199.5 L115.0,197.6 L116.2,204.0 L117.5,200.6 L118.7,195.9 L120.0,203.2 L121.2,197.8 L122.5,197.9 L123.7,193.4 L125.0,195.9 L126.2,194.6 L127.5,193.9 L128.7,191.1 L129.9,191.1 L131.2,193.1 L132.4,191.0 L133.7,191.7 L134.9,191.6 L136.2,191.3 L137.4,192.2 L138.7,190.5 L139.9,193.6 L141.2,190.9 L142.4,186.4 L143.7,187.6 L144.9,188.5 L146.2,186.5 L147.4,190.1 L148.7,181.6 L149.9,187.3 L151.2,187.3 L152.4,182.2 L153.7,181.5 L154.9,190.6 L156.2,185.4 L157.4,184.7 L158.7,181.1 L159.9,185.3 L161.2,181.5 L162.4,181.2 L163.7,183.6 L164.9,184.9 L166.2,181.8 L167.4,178.0 L168.7,181.4 L169.9,178.0 L171.2,184.3 L172.4,180.6 L173.7,179.3 L174.9,179.5 L176.2,181.0 L177.4,182.8 L178.7,184.3 L179.9,182.8 L181.2,178.5 L182.4,179.8 L183.7,182.4 L184.9,180.5 L186.2,182.0 L187.4,179.3 L188.7,178.2 L189.9,181.4 L191.2,181.8 L192.4,183.4 L193.7,181.1 L194.9,181.7 L196.2,183.3 L197.4,181.9 L198.7,180.1 L199.9,178.8 L201.2,180.4 L202.4,178.5 L203.7,180.5 L204.9,178.9 L206.2,178.7 L207.4,179.3 L208.7,177.5 L209.9,177.5 L211.2,175.9 L212.4,176.2 L213.7,175.9 L214.9,175.3 L216.2,176.1 L217.4,174.2 L218.7,174.6 L219.9,173.2 L221.2,173.6 L222.4,171.7 L223.7,174.6 L224.9,174.4 L226.2,174.7 L227.4,174.3 L228.7,174.7 L229.9,175.1 L231.2,175.5 L232.4,177.1 L233.7,175.1 L234.9,179.6 L236.2,178.0 L237.4,177.4 L238.7,179.7 L239.9,177.5 L241.2,178.6 L242.4,177.1 L243.7,180.3 L244.9,179.1 L246.2,179.8 L247.4,180.6 L248.7,179.2 L249.9,180.8 L251.2,180.9 L252.4,182.3 L253.7,182.2 L254.9,179.7 L256.2,182.2 L257.4,180.8 L258.7,181.7 L259.9,182.4 L261.2,184.7 L262.4,181.4 L263.7,183.1 L264.9,182.8 L266.2,183.8 L267.4,184.1 L268.7,183.4 L269.9,182.7 L271.2,184.3 L272.4,183.6 L273.7,184.9 L274.9,185.0 L276.2,185.2 L277.4,183.9 L278.7,183.4 L279.9,183.7 L281.2,184.3 L282.4,184.6 L283.7,184.7 L284.9,184.7 L286.2,185.2 L287.4,184.5 L288.7,185.5 L289.9,185.7 L291.2,185.7 L292.4,183.7 L293.7,185.0 L294.9,183.7 L296.2,184.3 L297.4,185.6 L298.7,185.4 L299.9,184.3 L301.2,186.3 L302.4,186.6 L303.7,185.0 L304.9,185.1 L306.2,184.4 L307.4,185.7 L308.7,186.9 L309.9,186.6 L311.2,186.6 L312.4,186.3 L313.7,186.2 L314.9,185.4 L316.2,186.0 L317.4,186.5 L318.7,185.8 L319.9,185.9 L321.2,186.1 L322.4,187.0 L323.7,186.6 L324.9,187.7 L326.2,187.3 L327.4,187.5 L328.7,188.3" stroke="#F01818"/>
<path d="M18.7,243.4 L19.9,249.3 L21.2,245.4 L22.4,247.3 L23.7,247.1 L24.9,239.6 L26.2,247.2 L27.4,242.3 L28.7,241.2 L29.9,248.4 L31.2,239.5 L32.5,239.3 L33.7,241.4 L35.0,248.2 L36.2,246.3 L37.5,242.6 L38.7,248.3 L40.0,239.9 L41.2,236.4 L42.5,243.6 L43.7,241.9 L45.0,241.9 L46.2,237.0 L47.5,241.8 L48.7,240.6 L50.0,235.4 L51.2,240.5 L52.5,239.3 L53.7,242.3 L55.0,236.2 L56.2,237.6 L57.5,239.1 L58.7,232.0 L60.0,233.5 L61.2,231.6 L62.5,232.3 L63.7,237.5 L65.0,235.0 L66.2,233.6 L67.5,232.7 L68.7,232.9 L70.0,234.9 L71.2,232.0 L72.5,234.0 L73.7,229.8 L75.0,228.5 L76.2,228.9 L77.5,226.5 L78.7,228.3 L80.0,218.6 L81.2,224.3 L82.5,223.4 L83.7,221.6 L85.0,225.9 L86.2,226.4 L87.5,226.2 L88.7,220.0 L90.0,223.5 L91.2,216.9 L92.5,220.0 L93.7,220.3 L95.0,220.0 L96.2,219.4 L97.5,222.2 L98.7,214.1 L100.0,219.5 L101.2,216.6 L102.5,217.6 L103.7,221.9 L105.0,221.0 L106.2,217.5 L107.5,223.2 L108.7,216.2 L110.0,216.5 L111.2,217.9 L112.5,213.0 L113.7,212.9 L115.0,215.9 L116.2,208.8 L117.5,211.1 L118.7,206.9 L120.0,218.2 L121.2,210.3 L122.5,212.8 L123.7,206.9 L125.0,215.4 L126.2,205.4 L127.5,207.1 L128.7,213.9 L129.9,208.6 L131.2,205.0 L132.4,208.8 L133.7,205.1 L134.9,204.2 L136.2,202.0 L137.4,200.5 L138.7,200.4 L139.9,200.3 L141.2,200.5 L142.4,202.5 L143.7,202.0 L144.9,201.2 L146.2,201.4 L147.4,200.3 L148.7,202.8 L149.9,201.6 L151.2,204.5 L152.4,199.4 L153.7,205.9 L154.9,200.4 L156.2,200.2 L157.4,201.6 L158.7,197.7 L159.9,199.9 L161.2,200.2 L162.4,199.1 L163.7,199.1 L164.9,194.5 L166.2,202.3 L167.4,197.3 L168.7,191.3 L169.9,202.0 L171.2,199.1 L172.4,198.5 L173.7,197.1 L174.9,196.6 L176.2,198.7 L177.4,202.6 L178.7,198.8 L179.9,199.3 L181.2,197.5 L182.4,194.8 L183.7,196.8 L184.9,196.8 L186.2,198.1 L187.4,197.8 L188.7,197.0 L189.9,194.6 L191.2,194.6 L192.4,195.4 L193.7,193.5 L194.9,194.7 L196.2,197.5 L197.4,195.2 L198.7,193.5 L199.9,192.9 L201.2,194.5 L202.4,194.1 L203.7,193.5 L204.9,193.3 L206.2,192.2 L207.4,192.0 L208.7,190.4 L209.9,190.7 L211.2,190.6 L212.4,188.6 L213.7,189.1 L214.9,188.9 L216.2,190.4 L217.4,188.7 L218.7,188.2 L219.9,188.5 L221.2,187.4 L222.4,189.0 L223.7,186.8 L224.9,186.7 L226.2,188.1 L227.4,187.7 L228.7,187.6 L229.9,188.6 L231.2,186.9 L232.4,189.3 L233.7,188.7 L234.9,189.7 L236.2,189.0 L237.4,189.6 L238.7,191.0 L239.9,189.6 L241.2,191.7 L242.4,190.7 L243.7,193.2 L244.9,190.2 L246.2,192.7 L247.4,191.6 L248.7,193.4 L249.9,191.8 L251.2,191.5 L252.4,192.8 L253.7,193.3 L254.9,193.1 L256.2,193.7 L257.4,193.7 L258.7,193.7 L259.9,193.2 L261.2,195.3 L262.4,195.5 L263.7,194.5 L264.9,196.3 L266.2,195.4 L267.4,195.9 L268.7,195.2 L269.9,196.4 L271.2,197.1 L272.4,196.1 L273.7,195.9 L274.9,194.6 L276.2,196.1 L277.4,195.0 L278.7,195.1 L279.9,195.7 L281.2,196.2 L282.4,195.5 L283.7,197.0 L284.9,196.3 L286.2,195.0 L287.4,195.7 L288.7,196.6 L289.9,195.7 L291.2,195.6 L292.4,197.3 L293.7,198.2 L294.9,196.9 L296.2,194.3 L297.4,195.7 L298.7,195.1 L299.9,194.6 L301.2,195.0 L302.4,194.8 L303.7,195.5 L304.9,196.2 L306.2,196.2 L307.4,196.5 L308.7,196.1 L309.9,196.1 L311.2,198.5 L312.4,197.3 L313.7,197.2 L314.9,198.1 L316.2,198.5 L317.4,197.2 L318.7,197.2 L319.9,198.0 L321.2,197.9 L322.4,198.9 L323.7,200.5 L324.9,200.4 L326.2,200.9 L327.4,201.6 L328.7,201.3" stroke="#262626"/>
<path d="M363.4,109.8 L364.6,102.5 L365.9,108.1 L367.1,102.2 L368.4,108.8 L369.6,100.7 L370.9,103.2 L372.1,103.6 L373.4,99.3 L374.6,108.4 L375.9,101.5 L377.1,102.5 L378.4,105.0 L379.6,109.2 L380.9,104.8 L382.1,113.5 L383.4,107.7 L384.6,107.2 L385.9,109.7 L387.1,108.3 L388.4,105.8 L389.6,107.6 L390.9,110.0 L392.1,114.4 L393.4,110.8 L394.6,111.7 L395.9,103.9 L397.1,109.8 L398.4,110.4 L399.6,115.6 L400.9,114.8 L402.1,110.2 L403.4,111.1 L404.6,109.1 L405.9,106.8 L407.1,108.8 L408.4,107.3 L409.6,109.1 L410.9,109.9 L412.1,107.0 L413.4,110.6 L414.6,103.7 L415.9,106.8 L417.1,107.0 L418.4,100.6 L419.6,107.5 L420.9,107.4 L422.1,110.0 L423.4,104.5 L424.6,106.1 L425.9,105.8 L427.1,98.8 L428.4,104.1 L429.6,98.6 L430.9,103.4 L432.1,104.3 L433.4,102.7 L434.6,95.6 L435.9,105.5 L437.1,101.9 L438.4,103.6 L439.6,98.4 L440.9,99.0 L442.1,105.9 L443.4,99.0 L444.6,98.0 L445.9,97.9 L447.1,101.6 L448.4,93.8 L449.6,97.1 L450.9,95.0 L452.1,104.4 L453.4,99.7 L454.6,96.3 L455.9,96.1 L457.1,94.3 L458.4,93.1 L459.6,93.3 L460.9,98.3 L462.1,91.8 L463.4,91.3 L464.6,92.4 L465.9,95.1 L467.1,91.7 L468.4,86.7 L469.6,89.2 L470.9,88.4 L472.1,84.0 L473.4,84.9 L474.6,87.2 L475.9,84.3 L477.1,89.6 L478.4,85.4 L479.6,82.8 L480.9,83.6 L482.1,81.2 L483.4,81.7 L484.6,85.5 L485.9,83.1 L487.1,78.0 L488.4,79.5 L489.6,84.7 L490.9,80.1 L492.1,82.4 L493.4,86.2 L494.6,82.8 L495.9,82.7 L497.1,82.5 L498.4,86.4 L499.6,81.8 L500.9,80.5 L502.1,84.0 L503.4,88.2 L504.6,85.0 L505.9,88.4 L507.1,87.8 L508.4,82.2 L509.6,85.7 L510.9,85.7 L512.1,86.4 L513.4,89.9 L514.6,90.8 L515.9,89.6 L517.1,91.2 L518.4,87.1 L519.6,91.1 L520.9,86.8 L522.1,88.9 L523.4,87.1 L524.6,93.2 L525.9,89.6 L527.1,92.5 L528.4,88.1 L529.6,91.6 L530.9,93.0 L532.1,91.7 L533.4,92.1 L534.6,92.1 L535.9,91.6 L537.1,90.7 L538.4,89.3 L539.6,91.8 L540.9,88.8 L542.1,87.6 L543.4,86.7 L544.6,82.7 L545.9,81.1 L547.1,79.8 L548.4,83.0 L549.6,78.7 L550.9,78.7 L552.1,74.1 L553.4,74.7 L554.6,74.0 L555.9,72.0 L557.1,72.6 L558.4,70.1 L559.6,69.6 L560.9,70.0 L562.1,69.9 L563.4,68.2 L564.6,67.0 L565.9,66.8 L567.1,67.9 L568.4,65.8 L569.6,66.0 L570.9,66.4 L572.1,68.5 L573.4,68.3 L574.6,67.5 L575.9,68.0 L577.1,69.1 L578.4,69.1 L579.6,69.1 L580.9,69.8 L582.1,70.9 L583.4,71.0 L584.6,72.0 L585.9,72.2 L587.1,72.4 L588.4,73.9 L589.6,74.4 L590.9,72.7 L592.1,75.0 L593.4,74.8 L594.6,74.6 L595.9,76.5 L597.1,76.4 L598.4,77.1 L599.6,76.4 L600.9,78.8 L602.1,78.1 L603.4,77.4 L604.6,79.9 L605.9,77.7 L607.1,79.8 L608.4,78.1 L609.6,77.5 L610.9,77.1 L612.1,76.5 L613.4,76.2 L614.6,76.9 L615.9,76.2 L617.1,74.5 L618.4,75.7 L619.6,73.8 L620.9,75.1 L622.1,73.9 L623.4,73.6 L624.6,74.4 L625.9,71.2 L627.1,74.4 L628.4,74.7 L629.6,72.6 L630.9,71.7 L632.1,70.2 L633.4,71.3 L634.6,69.8 L635.9,69.3 L637.1,68.6 L638.4,70.2 L639.6,69.5 L640.9,67.4 L642.1,68.3 L643.4,67.1 L644.6,68.8 L645.9,67.1 L647.1,67.6 L648.4,67.9 L649.6,67.1 L650.9,66.0 L652.1,66.5 L653.4,65.6 L654.6,67.7 L655.9,67.2 L657.1,64.9 L658.4,65.3 L659.6,68.0 L660.9,66.6 L662.1,65.7 L663.4,66.7 L664.6,66.1 L665.9,66.4 L667.1,65.6 L668.4,67.7 L669.6,67.2 L670.9,66.9 L672.1,68.8 L673.4,69.3" stroke="#5088C8"/>
<path d="M363.4,127.6 L364.6,127.2 L365.9,130.5 L367.1,126.7 L368.4,122.9 L369.6,126.8 L370.9,128.4 L372.1,130.4 L373.4,132.4 L374.6,122.8 L375.9,125.1 L377.1,126.3 L378.4,129.5 L379.6,126.4 L380.9,125.3 L382.1,126.6 L383.4,123.9 L384.6,125.9 L385.9,129.2 L387.1,128.0 L388.4,124.5 L389.6,123.5 L390.9,132.8 L392.1,133.3 L393.4,129.2 L394.6,129.1 L395.9,132.3 L397.1,132.5 L398.4,133.6 L399.6,134.6 L400.9,129.8 L402.1,122.4 L403.4,130.2 L404.6,126.8 L405.9,122.2 L407.1,129.1 L408.4,131.5 L409.6,124.5 L410.9,127.3 L412.1,128.2 L413.4,125.7 L414.6,126.1 L415.9,123.0 L417.1,122.6 L418.4,122.6 L419.6,123.6 L420.9,122.2 L422.1,118.5 L423.4,118.8 L424.6,121.0 L425.9,120.2 L427.1,118.2 L428.4,120.0 L429.6,116.9 L430.9,122.7 L432.1,117.1 L433.4,124.8 L434.6,117.7 L435.9,111.9 L437.1,117.3 L438.4,112.9 L439.6,112.1 L440.9,112.2 L442.1,117.1 L443.4,111.4 L444.6,107.9 L445.9,105.3 L447.1,106.9 L448.4,107.9 L449.6,106.2 L450.9,107.1 L452.1,104.5 L453.4,105.2 L454.6,97.3 L455.9,108.1 L457.1,98.6 L458.4,101.2 L459.6,100.6 L460.9,101.0 L462.1,102.4 L463.4,100.6 L464.6,103.8 L465.9,96.6 L467.1,104.5 L468.4,99.5 L469.6,103.1 L470.9,99.5 L472.1,99.4 L473.4,98.2 L474.6,99.9 L475.9,91.1 L477.1,93.3 L478.4,95.0 L479.6,92.1 L480.9,97.7 L482.1,90.0 L483.4,97.4 L484.6,91.5 L485.9,88.0 L487.1,96.3 L488.4,88.9 L489.6,93.9 L490.9,97.6 L492.1,97.4 L493.4,96.3 L494.6,93.6 L495.9,94.7 L497.1,91.0 L498.4,93.2 L499.6,92.8 L500.9,92.9 L502.1,97.6 L503.4,94.1 L504.6,93.6 L505.9,93.6 L507.1,98.8 L508.4,95.9 L509.6,97.4 L510.9,97.7 L512.1,97.1 L513.4,100.0 L514.6,99.9 L515.9,97.3 L517.1,98.2 L518.4,98.1 L519.6,100.5 L520.9,106.1 L522.1,100.9 L523.4,104.7 L524.6,100.3 L525.9,104.0 L527.1,106.3 L528.4,105.1 L529.6,106.2 L530.9,109.7 L532.1,104.4 L533.4,108.8 L534.6,110.7 L535.9,111.0 L537.1,107.3 L538.4,106.1 L539.6,107.7 L540.9,106.0 L542.1,105.3 L543.4,104.1 L544.6,101.2 L545.9,104.5 L547.1,103.0 L548.4,101.0 L549.6,97.3 L550.9,93.9 L552.1,91.8 L553.4,91.1 L554.6,88.1 L555.9,87.4 L557.1,83.4 L558.4,82.0 L559.6,81.7 L560.9,78.4 L562.1,76.7 L563.4,76.1 L564.6,77.4 L565.9,76.6 L567.1,74.7 L568.4,76.6 L569.6,76.4 L570.9,78.4 L572.1,77.8 L573.4,78.2 L574.6,78.8 L575.9,80.2 L577.1,82.4 L578.4,81.0 L579.6,83.9 L580.9,83.0 L582.1,84.8 L583.4,84.5 L584.6,86.5 L585.9,85.2 L587.1,88.3 L588.4,87.8 L589.6,86.9 L590.9,87.7 L592.1,87.4 L593.4,89.8 L594.6,89.2 L595.9,90.9 L597.1,89.1 L598.4,91.7 L599.6,91.5 L600.9,93.7 L602.1,92.8 L603.4,93.4 L604.6,93.8 L605.9,93.5 L607.1,91.4 L608.4,92.5 L609.6,92.2 L610.9,91.5 L612.1,89.4 L613.4,90.5 L614.6,89.8 L615.9,90.5 L617.1,89.1 L618.4,88.8 L619.6,88.6 L620.9,88.2 L622.1,87.3 L623.4,85.4 L624.6,85.0 L625.9,85.9 L627.1,85.1 L628.4,83.9 L629.6,84.9 L630.9,82.2 L632.1,83.3 L633.4,80.6 L634.6,80.4 L635.9,80.8 L637.1,80.2 L638.4,80.7 L639.6,78.8 L640.9,78.0 L642.1,79.3 L643.4,79.1 L644.6,76.5 L645.9,75.0 L647.1,75.2 L648.4,77.4 L649.6,74.6 L650.9,76.1 L652.1,75.3 L653.4,74.7 L654.6,75.9 L655.9,74.2 L657.1,76.6 L658.4,75.1 L659.6,74.5 L660.9,72.7 L662.1,73.2 L663.4,74.1 L664.6,73.4 L665.9,73.4 L667.1,74.3 L668.4,75.1 L669.6,75.9 L670.9,75.8 L672.1,76.7 L673.4,76.3" stroke="#FF5018"/>
<path d="M363.4,143.6 L364.6,146.6 L365.9,140.1 L367.1,149.2 L368.4,144.2 L369.6,143.7 L370.9,147.5 L372.1,147.1 L373.4,144.1 L374.6,148.3 L375.9,144.2 L377.1,150.3 L378.4,148.0 L379.6,148.4 L380.9,147.0 L382.1,150.8 L383.4,147.6 L384.6,145.1 L385.9,143.8 L387.1,156.4 L388.4,148.3 L389.6,149.6 L390.9,148.8 L392.1,150.2 L393.4,146.2 L394.6,148.4 L395.9,152.2 L397.1,146.6 L398.4,153.8 L399.6,150.8 L400.9,151.0 L402.1,148.8 L403.4,153.0 L404.6,150.0 L405.9,146.2 L407.1,145.8 L408.4,154.8 L409.6,145.5 L410.9,145.0 L412.1,153.2 L413.4,144.0 L414.6,151.1 L415.9,144.1 L417.1,142.4 L418.4,145.1 L419.6,139.0 L420.9,143.0 L422.1,144.0 L423.4,138.8 L424.6,139.3 L425.9,142.4 L427.1,136.6 L428.4,139.1 L429.6,136.4 L430.9,134.3 L432.1,131.0 L433.4,132.5 L434.6,133.4 L435.9,128.6 L437.1,130.8 L438.4,128.3 L439.6,128.5 L440.9,125.7 L442.1,128.0 L443.4,127.4 L444.6,126.5 L445.9,119.7 L447.1,124.9 L448.4,122.4 L449.6,118.9 L450.9,119.5 L452.1,123.4 L453.4,121.6 L454.6,121.9 L455.9,116.2 L457.1,114.3 L458.4,114.1 L459.6,114.3 L460.9,118.5 L462.1,116.2 L463.4,111.7 L464.6,111.2 L465.9,116.4 L467.1,110.8 L468.4,115.1 L469.6,113.2 L470.9,110.3 L472.1,112.2 L473.4,106.4 L474.6,104.6 L475.9,103.7 L477.1,106.6 L478.4,98.5 L479.6,100.0 L480.9,101.4 L482.1,98.1 L483.4,102.0 L484.6,99.6 L485.9,102.8 L487.1,102.0 L488.4,100.8 L489.6,103.5 L490.9,105.8 L492.1,98.3 L493.4,101.0 L494.6,105.2 L495.9,103.8 L497.1,101.5 L498.4,106.6 L499.6,104.4 L500.9,106.3 L502.1,105.1 L503.4,101.8 L504.6,100.3 L505.9,101.6 L507.1,103.0 L508.4,105.6 L509.6,103.0 L510.9,108.8 L512.1,109.9 L513.4,110.4 L514.6,111.2 L515.9,111.7 L517.1,112.5 L518.4,114.3 L519.6,114.0 L520.9,115.0 L522.1,112.0 L523.4,113.6 L524.6,115.4 L525.9,115.3 L527.1,115.4 L528.4,117.3 L529.6,121.0 L530.9,121.4 L532.1,124.0 L533.4,118.9 L534.6,120.8 L535.9,123.3 L537.1,120.4 L538.4,120.2 L539.6,122.2 L540.9,122.7 L542.1,119.8 L543.4,120.8 L544.6,120.6 L545.9,119.6 L547.1,116.7 L548.4,115.1 L549.6,113.5 L550.9,111.4 L552.1,108.3 L553.4,105.4 L554.6,104.8 L555.9,104.4 L557.1,100.4 L558.4,100.7 L559.6,97.6 L560.9,95.8 L562.1,94.6 L563.4,94.0 L564.6,93.0 L565.9,90.7 L567.1,92.7 L568.4,92.0 L569.6,94.2 L570.9,93.0 L572.1,94.3 L573.4,93.6 L574.6,93.1 L575.9,95.5 L577.1,96.4 L578.4,98.3 L579.6,98.9 L580.9,99.4 L582.1,98.9 L583.4,100.6 L584.6,102.3 L585.9,102.8 L587.1,104.2 L588.4,104.6 L589.6,104.7 L590.9,108.6 L592.1,105.7 L593.4,108.1 L594.6,108.9 L595.9,107.8 L597.1,108.5 L598.4,110.2 L599.6,110.6 L600.9,111.6 L602.1,111.8 L603.4,112.0 L604.6,111.0 L605.9,114.1 L607.1,113.2 L608.4,112.2 L609.6,110.7 L610.9,109.1 L612.1,109.2 L613.4,109.9 L614.6,108.9 L615.9,110.1 L617.1,107.0 L618.4,108.4 L619.6,106.3 L620.9,105.5 L622.1,104.9 L623.4,103.9 L624.6,105.6 L625.9,103.3 L627.1,102.1 L628.4,102.5 L629.6,102.0 L630.9,101.0 L632.1,100.3 L633.4,99.5 L634.6,100.1 L635.9,98.7 L637.1,97.6 L638.4,96.8 L639.6,96.8 L640.9,94.0 L642.1,95.9 L643.4,97.5 L644.6,96.0 L645.9,97.3 L647.1,94.2 L648.4,94.6 L649.6,94.7 L650.9,96.1 L652.1,95.1 L653.4,92.3 L654.6,92.1 L655.9,91.3 L657.1,92.5 L658.4,92.4 L659.6,90.9 L660.9,91.7 L662.1,92.1 L663.4,93.3 L664.6,90.7 L665.9,93.0 L667.1,91.5 L668.4,93.0 L669.6,92.7 L670.9,93.3 L672.1,92.2 L673.4,91.5" stroke="#808C18"/>
<path d="M363.4,156.7 L364.6,156.1 L365.9,154.7 L367.1,154.8 L368.4,161.1 L369.6,160.8 L370.9,156.2 L372.1,162.9 L373.4,158.4 L374.6,163.6 L375.9,156.9 L377.1,161.6 L378.4,155.4 L379.6,161.7 L380.9,164.7 L382.1,161.7 L383.4,159.9 L384.6,165.3 L385.9,165.7 L387.1,164.4 L388.4,167.0 L389.6,163.5 L390.9,162.2 L392.1,164.6 L393.4,165.1 L394.6,160.6 L395.9,163.6 L397.1,161.9 L398.4,160.8 L399.6,158.8 L400.9,160.6 L402.1,166.9 L403.4,161.5 L404.6,156.9 L405.9,158.3 L407.1,165.4 L408.4,162.7 L409.6,159.8 L410.9,161.1 L412.1,157.9 L413.4,158.1 L414.6,160.5 L415.9,159.4 L417.1,155.8 L418.4,156.7 L419.6,153.8 L420.9,153.7 L422.1,153.0 L423.4,156.3 L424.6,150.6 L425.9,153.1 L427.1,150.8 L428.4,143.1 L429.6,147.5 L430.9,143.1 L432.1,147.4 L433.4,149.3 L434.6,148.3 L435.9,139.2 L437.1,144.4 L438.4,141.3 L439.6,139.5 L440.9,142.1 L442.1,141.0 L443.4,141.2 L444.6,141.5 L445.9,139.3 L447.1,140.4 L448.4,135.7 L449.6,129.4 L450.9,134.1 L452.1,133.1 L453.4,129.5 L454.6,128.6 L455.9,127.8 L457.1,126.1 L458.4,125.7 L459.6,126.3 L460.9,127.3 L462.1,123.9 L463.4,124.6 L464.6,128.6 L465.9,119.0 L467.1,119.7 L468.4,116.2 L469.6,115.5 L470.9,118.3 L472.1,117.4 L473.4,114.6 L474.6,115.3 L475.9,111.7 L477.1,114.2 L478.4,110.3 L479.6,110.8 L480.9,113.2 L482.1,110.4 L483.4,111.9 L484.6,110.9 L485.9,109.9 L487.1,114.8 L488.4,111.1 L489.6,108.0 L490.9,113.0 L492.1,112.6 L493.4,112.4 L494.6,117.2 L495.9,117.9 L497.1,110.6 L498.4,118.8 L499.6,117.7 L500.9,117.1 L502.1,118.1 L503.4,117.4 L504.6,118.5 L505.9,116.7 L507.1,119.7 L508.4,120.4 L509.6,117.1 L510.9,118.7 L512.1,122.7 L513.4,119.4 L514.6,116.9 L515.9,124.6 L517.1,125.4 L518.4,125.3 L519.6,125.1 L520.9,128.1 L522.1,128.4 L523.4,124.5 L524.6,123.9 L525.9,130.2 L527.1,127.7 L528.4,126.8 L529.6,128.5 L530.9,127.1 L532.1,130.3 L533.4,129.4 L534.6,134.8 L535.9,130.5 L537.1,132.8 L538.4,135.0 L539.6,133.9 L540.9,132.6 L542.1,131.5 L543.4,132.9 L544.6,134.0 L545.9,130.8 L547.1,126.2 L548.4,124.3 L549.6,124.8 L550.9,122.7 L552.1,122.8 L553.4,119.7 L554.6,117.1 L555.9,114.8 L557.1,113.3 L558.4,113.8 L559.6,112.2 L560.9,109.8 L562.1,107.9 L563.4,107.9 L564.6,107.6 L565.9,107.7 L567.1,107.2 L568.4,108.4 L569.6,108.9 L570.9,108.3 L572.1,107.4 L573.4,109.5 L574.6,110.1 L575.9,111.4 L577.1,111.2 L578.4,112.2 L579.6,113.4 L580.9,112.5 L582.1,113.5 L583.4,115.8 L584.6,115.6 L585.9,117.3 L587.1,118.9 L588.4,116.8 L589.6,119.2 L590.9,120.4 L592.1,120.4 L593.4,120.0 L594.6,122.4 L595.9,122.3 L597.1,122.7 L598.4,123.8 L599.6,124.6 L600.9,125.3 L602.1,125.1 L603.4,127.0 L604.6,127.2 L605.9,126.7 L607.1,126.4 L608.4,125.4 L609.6,127.1 L610.9,126.7 L612.1,125.6 L613.4,122.5 L614.6,123.8 L615.9,123.5 L617.1,123.5 L618.4,124.6 L619.6,122.3 L620.9,122.0 L622.1,122.4 L623.4,120.2 L624.6,120.0 L625.9,118.1 L627.1,119.4 L628.4,117.5 L629.6,115.9 L630.9,116.5 L632.1,117.1 L633.4,115.3 L634.6,114.9 L635.9,114.2 L637.1,114.2 L638.4,114.3 L639.6,113.1 L640.9,113.4 L642.1,112.6 L643.4,111.6 L644.6,113.7 L645.9,112.1 L647.1,112.0 L648.4,111.7 L649.6,109.7 L650.9,112.3 L652.1,110.4 L653.4,110.7 L654.6,111.8 L655.9,110.7 L657.1,111.1 L658.4,110.6 L659.6,111.1 L660.9,109.6 L662.1,110.8 L663.4,110.9 L664.6,108.8 L665.9,111.3 L667.1,109.7 L668.4,110.6 L669.6,110.7 L670.9,112.5 L672.1,112.3 L673.4,112.2" stroke="#6E2C34"/>
<path d="M363.4,170.5 L364.6,174.6 L365.9,169.3 L367.1,170.1 L368.4,177.5 L369.6,174.7 L370.9,171.2 L372.1,174.8 L373.4,172.4 L374.6,173.1 L375.9,174.3 L377.1,169.6 L378.4,169.5 L379.6,173.8 L380.9,182.1 L382.1,178.5 L383.4,173.5 L384.6,167.9 L385.9,181.9 L387.1,175.0 L388.4,177.2 L389.6,176.3 L390.9,178.2 L392.1,175.9 L393.4,182.0 L394.6,175.3 L395.9,177.5 L397.1,180.8 L398.4,181.7 L399.6,183.9 L400.9,183.0 L402.1,179.0 L403.4,173.6 L404.6,176.6 L405.9,176.1 L407.1,176.9 L408.4,176.0 L409.6,175.6 L410.9,175.2 L412.1,178.6 L413.4,174.3 L414.6,178.3 L415.9,174.3 L417.1,172.8 L418.4,172.3 L419.6,171.4 L420.9,166.2 L422.1,169.6 L423.4,165.3 L424.6,165.5 L425.9,165.6 L427.1,167.4 L428.4,161.9 L429.6,160.8 L430.9,157.3 L432.1,162.4 L433.4,159.5 L434.6,159.0 L435.9,155.1 L437.1,159.7 L438.4,158.3 L439.6,155.9 L440.9,151.3 L442.1,153.8 L443.4,151.6 L444.6,148.0 L445.9,147.9 L447.1,152.8 L448.4,148.0 L449.6,144.9 L450.9,148.3 L452.1,149.7 L453.4,150.0 L454.6,142.3 L455.9,144.1 L457.1,146.3 L458.4,143.0 L459.6,143.4 L460.9,137.9 L462.1,137.3 L463.4,146.0 L464.6,140.6 L465.9,138.5 L467.1,137.6 L468.4,134.9 L469.6,134.0 L470.9,129.7 L472.1,132.8 L473.4,132.5 L474.6,132.5 L475.9,130.2 L477.1,130.1 L478.4,130.5 L479.6,130.3 L480.9,132.2 L482.1,129.1 L483.4,125.6 L484.6,126.7 L485.9,124.6 L487.1,126.5 L488.4,127.3 L489.6,131.9 L490.9,128.1 L492.1,129.6 L493.4,125.9 L494.6,127.9 L495.9,124.3 L497.1,129.4 L498.4,132.3 L499.6,130.0 L500.9,127.4 L502.1,126.3 L503.4,128.6 L504.6,128.9 L505.9,134.6 L507.1,124.3 L508.4,126.5 L509.6,129.4 L510.9,128.4 L512.1,133.0 L513.4,128.5 L514.6,129.9 L515.9,128.2 L517.1,134.3 L518.4,134.7 L519.6,132.9 L520.9,133.3 L522.1,136.7 L523.4,132.3 L524.6,132.7 L525.9,138.5 L527.1,137.2 L528.4,134.4 L529.6,138.9 L530.9,135.0 L532.1,135.4 L533.4,137.7 L534.6,139.5 L535.9,136.4 L537.1,134.5 L538.4,141.6 L539.6,138.5 L540.9,137.1 L542.1,135.4 L543.4,136.0 L544.6,135.7 L545.9,131.4 L547.1,132.8 L548.4,132.5 L549.6,129.6 L550.9,131.6 L552.1,129.0 L553.4,127.8 L554.6,127.8 L555.9,125.2 L557.1,124.0 L558.4,126.7 L559.6,125.0 L560.9,122.6 L562.1,121.0 L563.4,122.2 L564.6,120.9 L565.9,120.4 L567.1,122.0 L568.4,119.7 L569.6,121.9 L570.9,121.9 L572.1,124.2 L573.4,122.5 L574.6,124.1 L575.9,123.4 L577.1,123.9 L578.4,124.5 L579.6,125.9 L580.9,126.9 L582.1,126.8 L583.4,127.7 L584.6,127.3 L585.9,129.2 L587.1,128.3 L588.4,130.7 L589.6,130.1 L590.9,131.7 L592.1,132.3 L593.4,132.6 L594.6,132.4 L595.9,133.2 L597.1,133.7 L598.4,134.1 L599.6,133.3 L600.9,134.5 L602.1,133.6 L603.4,134.2 L604.6,135.3 L605.9,135.2 L607.1,135.5 L608.4,135.6 L609.6,135.1 L610.9,136.7 L612.1,134.9 L613.4,135.9 L614.6,134.3 L615.9,133.7 L617.1,133.5 L618.4,135.1 L619.6,132.8 L620.9,132.9 L622.1,133.6 L623.4,132.2 L624.6,131.3 L625.9,130.8 L627.1,131.7 L628.4,130.4 L629.6,129.9 L630.9,129.6 L632.1,129.4 L633.4,129.0 L634.6,128.1 L635.9,127.1 L637.1,128.6 L638.4,128.5 L639.6,126.6 L640.9,126.4 L642.1,126.3 L643.4,124.9 L644.6,125.2 L645.9,124.9 L647.1,125.7 L648.4,125.0 L649.6,124.6 L650.9,123.8 L652.1,125.5 L653.4,125.1 L654.6,123.3 L655.9,125.0 L657.1,125.7 L658.4,126.6 L659.6,126.2 L660.9,125.5 L662.1,126.7 L663.4,124.9 L664.6,126.8 L665.9,127.0 L667.1,126.5 L668.4,125.0 L669.6,123.6 L670.9,127.4 L672.1,126.0 L673.4,125.7" stroke="#48DCCC"/>
<path d="M363.4,172.6 L364.6,175.8 L365.9,173.7 L367.1,174.7 L368.4,174.0 L369.6,180.9 L370.9,177.2 L372.1,179.6 L373.4,174.6 L374.6,177.2 L375.9,182.8 L377.1,179.6 L378.4,183.1 L379.6,176.2 L380.9,175.7 L382.1,180.0 L383.4,176.0 L384.6,178.2 L385.9,179.9 L387.1,183.3 L388.4,179.1 L389.6,177.8 L390.9,178.7 L392.1,181.7 L393.4,179.2 L394.6,183.1 L395.9,179.6 L397.1,177.9 L398.4,181.0 L399.6,182.9 L400.9,185.0 L402.1,178.1 L403.4,181.1 L404.6,184.8 L405.9,183.6 L407.1,181.1 L408.4,180.4 L409.6,181.9 L410.9,181.0 L412.1,180.8 L413.4,184.9 L414.6,179.4 L415.9,175.3 L417.1,175.9 L418.4,170.6 L419.6,176.2 L420.9,177.9 L422.1,175.8 L423.4,177.4 L424.6,175.5 L425.9,170.3 L427.1,173.3 L428.4,176.1 L429.6,173.4 L430.9,170.1 L432.1,165.6 L433.4,169.9 L434.6,168.2 L435.9,163.5 L437.1,167.3 L438.4,167.6 L439.6,166.2 L440.9,164.0 L442.1,165.0 L443.4,159.9 L444.6,166.3 L445.9,161.2 L447.1,160.0 L448.4,166.2 L449.6,162.8 L450.9,162.4 L452.1,159.2 L453.4,158.5 L454.6,156.3 L455.9,160.5 L457.1,155.8 L458.4,159.4 L459.6,152.7 L460.9,149.1 L462.1,156.7 L463.4,152.4 L464.6,152.3 L465.9,149.9 L467.1,154.7 L468.4,147.0 L469.6,150.8 L470.9,152.8 L472.1,147.6 L473.4,147.1 L474.6,144.3 L475.9,147.8 L477.1,145.4 L478.4,147.0 L479.6,144.3 L480.9,148.5 L482.1,142.2 L483.4,145.9 L484.6,144.2 L485.9,143.8 L487.1,140.8 L488.4,145.3 L489.6,147.9 L490.9,147.5 L492.1,138.5 L493.4,143.9 L494.6,138.0 L495.9,140.7 L497.1,139.7 L498.4,139.4 L499.6,141.7 L500.9,140.7 L502.1,144.2 L503.4,142.2 L504.6,139.9 L505.9,143.3 L507.1,141.8 L508.4,149.3 L509.6,143.9 L510.9,144.3 L512.1,143.2 L513.4,143.0 L514.6,144.2 L515.9,140.1 L517.1,142.5 L518.4,146.2 L519.6,136.3 L520.9,143.3 L522.1,141.4 L523.4,143.4 L524.6,137.7 L525.9,141.3 L527.1,140.9 L528.4,140.6 L529.6,144.0 L530.9,141.6 L532.1,143.1 L533.4,141.7 L534.6,143.2 L535.9,141.0 L537.1,142.8 L538.4,140.9 L539.6,141.7 L540.9,142.5 L542.1,138.9 L543.4,140.9 L544.6,143.9 L545.9,138.4 L547.1,137.4 L548.4,137.0 L549.6,138.4 L550.9,139.0 L552.1,139.5 L553.4,140.4 L554.6,140.4 L555.9,139.0 L557.1,138.9 L558.4,139.5 L559.6,138.4 L560.9,138.4 L562.1,137.7 L563.4,138.9 L564.6,139.0 L565.9,139.5 L567.1,137.3 L568.4,139.7 L569.6,138.2 L570.9,137.3 L572.1,139.5 L573.4,139.6 L574.6,139.4 L575.9,141.4 L577.1,141.3 L578.4,142.0 L579.6,139.9 L580.9,141.3 L582.1,141.4 L583.4,141.8 L584.6,143.1 L585.9,142.2 L587.1,142.4 L588.4,141.2 L589.6,144.0 L590.9,142.7 L592.1,141.6 L593.4,142.4 L594.6,143.5 L595.9,144.9 L597.1,142.7 L598.4,142.5 L599.6,144.9 L600.9,145.5 L602.1,144.9 L603.4,145.0 L604.6,145.9 L605.9,144.7 L607.1,145.7 L608.4,145.8 L609.6,146.6 L610.9,146.0 L612.1,147.2 L613.4,145.6 L614.6,148.2 L615.9,145.2 L617.1,146.2 L618.4,145.9 L619.6,145.4 L620.9,146.2 L622.1,145.1 L623.4,145.1 L624.6,145.0 L625.9,145.1 L627.1,144.0 L628.4,144.0 L629.6,144.6 L630.9,143.7 L632.1,144.5 L633.4,143.9 L634.6,146.2 L635.9,144.5 L637.1,144.4 L638.4,143.5 L639.6,142.8 L640.9,143.1 L642.1,143.7 L643.4,142.4 L644.6,142.7 L645.9,143.3 L647.1,143.6 L648.4,143.0 L649.6,143.3 L650.9,141.6 L652.1,142.4 L653.4,142.0 L654.6,143.2 L655.9,142.9 L657.1,142.5 L658.4,143.6 L659.6,143.1 L660.9,142.4 L662.1,142.1 L663.4,145.0 L664.6,145.0 L665.9,145.4 L667.1,145.1 L668.4,145.6 L669.6,146.6 L670.9,144.9 L672.1,146.6 L673.4,146.7" stroke="#C09028"/>
<path d="M363.4,179.9 L364.6,184.8 L365.9,178.0 L367.1,182.2 L368.4,184.3 L369.6,183.2 L370.9,185.2 L372.1,185.4 L373.4,184.4 L374.6,185.9 L375.9,187.2 L377.1,182.6 L378.4,183.9 L379.6,185.5 L380.9,186.0 L382.1,186.4 L383.4,186.8 L384.6,184.4 L385.9,184.9 L387.1,188.6 L388.4,189.4 L389.6,191.5 L390.9,194.7 L392.1,190.7 L393.4,184.8 L394.6,184.6 L395.9,191.6 L397.1,195.0 L398.4,192.8 L399.6,189.5 L400.9,189.3 L402.1,190.2 L403.4,193.3 L404.6,187.8 L405.9,187.5 L407.1,194.6 L408.4,185.1 L409.6,188.5 L410.9,183.4 L412.1,187.3 L413.4,187.4 L414.6,183.8 L415.9,183.0 L417.1,187.1 L418.4,189.2 L419.6,188.6 L420.9,187.4 L422.1,186.4 L423.4,186.9 L424.6,185.2 L425.9,186.4 L427.1,181.5 L428.4,183.4 L429.6,184.1 L430.9,186.2 L432.1,184.4 L433.4,185.0 L434.6,184.0 L435.9,184.9 L437.1,186.1 L438.4,175.3 L439.6,178.5 L440.9,174.3 L442.1,172.5 L443.4,177.0 L444.6,174.9 L445.9,180.1 L447.1,178.4 L448.4,180.3 L449.6,174.8 L450.9,172.1 L452.1,169.5 L453.4,174.1 L454.6,171.7 L455.9,175.0 L457.1,168.2 L458.4,169.2 L459.6,172.3 L460.9,166.7 L462.1,176.0 L463.4,170.3 L464.6,167.4 L465.9,169.0 L467.1,170.1 L468.4,169.8 L469.6,167.1 L470.9,162.4 L472.1,166.0 L473.4,167.9 L474.6,165.2 L475.9,168.1 L477.1,164.4 L478.4,167.9 L479.6,164.1 L480.9,162.0 L482.1,167.3 L483.4,163.4 L484.6,160.7 L485.9,162.0 L487.1,161.9 L488.4,161.6 L489.6,165.5 L490.9,159.2 L492.1,162.7 L493.4,159.2 L494.6,160.1 L495.9,157.4 L497.1,160.3 L498.4,161.8 L499.6,155.7 L500.9,156.9 L502.1,159.9 L503.4,156.5 L504.6,153.5 L505.9,159.2 L507.1,160.5 L508.4,155.3 L509.6,161.5 L510.9,163.4 L512.1,154.6 L513.4,155.2 L514.6,156.1 L515.9,157.1 L517.1,156.9 L518.4,158.0 L519.6,156.4 L520.9,156.4 L522.1,154.2 L523.4,153.3 L524.6,152.2 L525.9,157.8 L527.1,151.4 L528.4,156.0 L529.6,151.1 L530.9,156.3 L532.1,153.1 L533.4,152.3 L534.6,149.6 L535.9,151.1 L537.1,149.1 L538.4,150.1 L539.6,148.8 L540.9,149.7 L542.1,153.5 L543.4,151.0 L544.6,153.7 L545.9,152.7 L547.1,152.3 L548.4,151.3 L549.6,153.4 L550.9,154.8 L552.1,154.2 L553.4,151.7 L554.6,153.6 L555.9,152.1 L557.1,153.8 L558.4,155.1 L559.6,155.2 L560.9,155.1 L562.1,155.7 L563.4,156.7 L564.6,155.7 L565.9,154.8 L567.1,154.9 L568.4,156.2 L569.6,156.1 L570.9,154.0 L572.1,154.6 L573.4,155.5 L574.6,155.3 L575.9,155.9 L577.1,156.8 L578.4,156.5 L579.6,155.9 L580.9,156.9 L582.1,155.3 L583.4,156.4 L584.6,155.9 L585.9,156.8 L587.1,156.1 L588.4,155.0 L589.6,155.6 L590.9,156.0 L592.1,156.5 L593.4,156.6 L594.6,155.6 L595.9,156.9 L597.1,156.3 L598.4,154.4 L599.6,156.2 L600.9,155.5 L602.1,156.5 L603.4,156.3 L604.6,156.7 L605.9,156.8 L607.1,156.0 L608.4,158.8 L609.6,155.3 L610.9,157.0 L612.1,157.3 L613.4,157.7 L614.6,159.5 L615.9,158.3 L617.1,158.4 L618.4,157.1 L619.6,157.6 L620.9,157.1 L622.1,157.7 L623.4,158.6 L624.6,160.1 L625.9,158.9 L627.1,159.5 L628.4,159.4 L629.6,158.5 L630.9,160.7 L632.1,160.0 L633.4,160.0 L634.6,159.1 L635.9,160.2 L637.1,160.9 L638.4,160.8 L639.6,161.9 L640.9,160.1 L642.1,161.0 L643.4,161.6 L644.6,161.3 L645.9,159.4 L647.1,163.6 L648.4,162.1 L649.6,161.2 L650.9,161.8 L652.1,160.1 L653.4,160.9 L654.6,162.7 L655.9,161.8 L657.1,161.1 L658.4,163.6 L659.6,163.7 L660.9,163.7 L662.1,161.6 L663.4,162.2 L664.6,163.3 L665.9,164.7 L667.1,164.2 L668.4,162.3 L669.6,164.6 L670.9,165.5 L672.1,165.0 L673.4,163.8" stroke="#A055F0"/>
<path d="M363.4,190.0 L364.6,192.8 L365.9,190.7 L367.1,193.6 L368.4,191.4 L369.6,194.7 L370.9,192.8 L372.1,185.5 L373.4,194.6 L374.6,195.4 L375.9,195.0 L377.1,194.6 L378.4,195.4 L379.6,198.2 L380.9,193.6 L382.1,192.9 L383.4,193.8 L384.6,195.2 L385.9,194.8 L387.1,199.6 L388.4,194.1 L389.6,200.0 L390.9,197.3 L392.1,201.3 L393.4,200.2 L394.6,201.5 L395.9,204.6 L397.1,201.9 L398.4,201.3 L399.6,198.8 L400.9,197.9 L402.1,197.4 L403.4,194.6 L404.6,196.4 L405.9,200.4 L407.1,198.1 L408.4,197.3 L409.6,195.9 L410.9,199.8 L412.1,201.7 L413.4,197.9 L414.6,203.9 L415.9,196.4 L417.1,194.1 L418.4,199.2 L419.6,191.7 L420.9,194.8 L422.1,191.8 L423.4,195.1 L424.6,198.3 L425.9,193.0 L427.1,194.5 L428.4,197.2 L429.6,195.9 L430.9,193.9 L432.1,194.8 L433.4,193.7 L434.6,196.0 L435.9,198.5 L437.1,197.2 L438.4,190.8 L439.6,190.3 L440.9,196.5 L442.1,192.9 L443.4,193.6 L444.6,192.2 L445.9,188.6 L447.1,191.8 L448.4,187.3 L449.6,184.3 L450.9,183.5 L452.1,184.3 L453.4,192.8 L454.6,188.9 L455.9,188.6 L457.1,187.3 L458.4,186.3 L459.6,187.6 L460.9,187.4 L462.1,190.9 L463.4,185.3 L464.6,182.8 L465.9,180.3 L467.1,185.3 L468.4,182.1 L469.6,182.9 L470.9,185.1 L472.1,182.9 L473.4,180.5 L474.6,181.6 L475.9,180.9 L477.1,185.2 L478.4,181.1 L479.6,181.1 L480.9,178.3 L482.1,173.9 L483.4,177.4 L484.6,179.6 L485.9,176.2 L487.1,178.5 L488.4,179.4 L489.6,173.4 L490.9,172.9 L492.1,173.0 L493.4,175.0 L494.6,174.8 L495.9,176.5 L497.1,176.5 L498.4,177.0 L499.6,176.6 L500.9,170.6 L502.1,175.5 L503.4,171.4 L504.6,171.1 L505.9,171.1 L507.1,173.5 L508.4,169.2 L509.6,169.7 L510.9,173.8 L512.1,168.6 L513.4,169.5 L514.6,171.6 L515.9,167.3 L517.1,169.8 L518.4,168.8 L519.6,168.7 L520.9,162.5 L522.1,168.8 L523.4,171.8 L524.6,169.6 L525.9,165.9 L527.1,164.6 L528.4,161.5 L529.6,164.4 L530.9,162.5 L532.1,161.0 L533.4,161.2 L534.6,165.3 L535.9,162.5 L537.1,162.3 L538.4,160.7 L539.6,159.6 L540.9,156.9 L542.1,159.7 L543.4,160.3 L544.6,160.3 L545.9,162.3 L547.1,159.5 L548.4,163.5 L549.6,160.6 L550.9,160.6 L552.1,162.9 L553.4,163.4 L554.6,164.0 L555.9,162.6 L557.1,162.6 L558.4,165.0 L559.6,166.2 L560.9,163.9 L562.1,164.5 L563.4,163.0 L564.6,162.6 L565.9,165.2 L567.1,164.5 L568.4,163.1 L569.6,162.5 L570.9,163.1 L572.1,163.0 L573.4,162.6 L574.6,161.6 L575.9,162.4 L577.1,162.2 L578.4,161.9 L579.6,163.1 L580.9,161.1 L582.1,161.8 L583.4,161.9 L584.6,161.3 L585.9,162.8 L587.1,162.3 L588.4,162.8 L589.6,160.7 L590.9,161.7 L592.1,162.1 L593.4,161.9 L594.6,161.5 L595.9,161.8 L597.1,161.1 L598.4,163.2 L599.6,161.0 L600.9,160.9 L602.1,162.6 L603.4,161.9 L604.6,163.0 L605.9,162.0 L607.1,163.6 L608.4,162.5 L609.6,161.4 L610.9,162.5 L612.1,162.1 L613.4,164.8 L614.6,162.6 L615.9,163.1 L617.1,163.2 L618.4,164.1 L619.6,165.4 L620.9,164.0 L622.1,165.3 L623.4,163.8 L624.6,165.0 L625.9,163.3 L627.1,164.4 L628.4,166.4 L629.6,165.8 L630.9,165.5 L632.1,164.3 L633.4,165.5 L634.6,167.2 L635.9,165.2 L637.1,165.1 L638.4,167.2 L639.6,165.6 L640.9,164.6 L642.1,166.7 L643.4,167.0 L644.6,166.7 L645.9,166.7 L647.1,167.0 L648.4,166.5 L649.6,166.0 L650.9,168.2 L652.1,167.2 L653.4,168.2 L654.6,165.1 L655.9,168.1 L657.1,167.4 L658.4,167.7 L659.6,167.9 L660.9,166.1 L662.1,168.7 L663.4,167.8 L664.6,168.5 L665.9,168.4 L667.1,169.4 L668.4,169.1 L669.6,167.9 L670.9,168.6 L672.1,169.8 L673.4,168.8" stroke="#35A855"/>
<path d="M363.4,208.0 L364.6,206.5 L365.9,212.2 L367.1,209.0 L368.4,212.7 L369.6,209.9 L370.9,207.9 L372.1,209.9 L373.4,212.1 L374.6,205.6 L375.9,208.6 L377.1,203.3 L378.4,207.5 L379.6,207.6 L380.9,205.5 L382.1,213.3 L383.4,213.2 L384.6,209.6 L385.9,209.8 L387.1,211.5 L388.4,207.3 L389.6,214.6 L390.9,208.9 L392.1,207.3 L393.4,212.3 L394.6,216.4 L395.9,210.3 L397.1,215.3 L398.4,211.2 L399.6,210.6 L400.9,213.3 L402.1,214.9 L403.4,211.9 L404.6,212.2 L405.9,210.0 L407.1,212.7 L408.4,210.3 L409.6,212.7 L410.9,211.6 L412.1,211.5 L413.4,210.8 L414.6,213.3 L415.9,211.1 L417.1,212.9 L418.4,216.6 L419.6,208.3 L420.9,209.8 L422.1,209.0 L423.4,210.5 L424.6,212.0 L425.9,210.1 L427.1,211.2 L428.4,210.7 L429.6,211.3 L430.9,208.5 L432.1,211.9 L433.4,211.1 L434.6,205.7 L435.9,207.9 L437.1,208.5 L438.4,204.3 L439.6,204.4 L440.9,207.6 L442.1,211.9 L443.4,202.5 L444.6,206.7 L445.9,204.6 L447.1,203.6 L448.4,206.1 L449.6,198.9 L450.9,208.0 L452.1,203.7 L453.4,205.5 L454.6,200.8 L455.9,203.0 L457.1,199.4 L458.4,201.2 L459.6,201.5 L460.9,202.2 L462.1,205.9 L463.4,202.5 L464.6,197.7 L465.9,202.7 L467.1,201.8 L468.4,205.7 L469.6,203.1 L470.9,194.6 L472.1,201.1 L473.4,200.4 L474.6,196.1 L475.9,199.2 L477.1,197.8 L478.4,195.4 L479.6,195.0 L480.9,200.0 L482.1,195.3 L483.4,196.7 L484.6,198.4 L485.9,197.6 L487.1,196.9 L488.4,196.2 L489.6,192.9 L490.9,192.2 L492.1,192.2 L493.4,194.6 L494.6,196.0 L495.9,186.8 L497.1,193.5 L498.4,192.6 L499.6,191.7 L500.9,188.4 L502.1,188.0 L503.4,186.8 L504.6,189.1 L505.9,187.3 L507.1,188.1 L508.4,182.2 L509.6,187.0 L510.9,187.5 L512.1,182.6 L513.4,182.7 L514.6,187.0 L515.9,184.2 L517.1,183.4 L518.4,184.0 L519.6,180.5 L520.9,181.7 L522.1,181.5 L523.4,180.2 L524.6,184.3 L525.9,182.7 L527.1,183.4 L528.4,181.3 L529.6,175.3 L530.9,175.4 L532.1,179.3 L533.4,176.9 L534.6,177.2 L535.9,178.0 L537.1,178.0 L538.4,178.3 L539.6,177.8 L540.9,173.9 L542.1,176.5 L543.4,174.0 L544.6,170.8 L545.9,170.0 L547.1,171.7 L548.4,172.6 L549.6,173.1 L550.9,173.9 L552.1,174.3 L553.4,173.5 L554.6,173.0 L555.9,174.3 L557.1,175.2 L558.4,174.0 L559.6,174.1 L560.9,175.9 L562.1,173.8 L563.4,175.0 L564.6,173.3 L565.9,174.0 L567.1,172.6 L568.4,173.2 L569.6,173.5 L570.9,172.8 L572.1,171.7 L573.4,172.2 L574.6,174.5 L575.9,173.7 L577.1,171.6 L578.4,173.7 L579.6,172.7 L580.9,171.7 L582.1,173.2 L583.4,171.5 L584.6,171.3 L585.9,171.1 L587.1,173.3 L588.4,171.5 L589.6,172.4 L590.9,172.0 L592.1,172.4 L593.4,171.6 L594.6,171.3 L595.9,171.0 L597.1,170.5 L598.4,172.1 L599.6,170.0 L600.9,171.1 L602.1,168.4 L603.4,169.9 L604.6,170.0 L605.9,169.8 L607.1,170.3 L608.4,169.4 L609.6,167.2 L610.9,169.0 L612.1,170.5 L613.4,168.4 L614.6,168.9 L615.9,170.2 L617.1,169.6 L618.4,168.5 L619.6,169.3 L620.9,169.1 L622.1,169.8 L623.4,169.5 L624.6,170.8 L625.9,172.3 L627.1,170.6 L628.4,169.7 L629.6,170.3 L630.9,171.4 L632.1,171.1 L633.4,170.2 L634.6,172.2 L635.9,172.0 L637.1,170.5 L638.4,170.1 L639.6,172.6 L640.9,171.1 L642.1,170.7 L643.4,171.7 L644.6,171.7 L645.9,171.8 L647.1,172.1 L648.4,172.0 L649.6,171.8 L650.9,171.4 L652.1,169.9 L653.4,170.3 L654.6,171.3 L655.9,171.9 L657.1,171.0 L658.4,170.2 L659.6,170.2 L660.9,171.6 L662.1,171.5 L663.4,171.9 L664.6,170.7 L665.9,171.2 L667.1,172.7 L668.4,173.8 L669.6,175.2 L670.9,174.4 L672.1,175.8 L673.4,176.0" stroke="#1F50F0"/>
<path d="M363.4,219.4 L364.6,224.0 L365.9,225.2 L367.1,220.3 L368.4,222.5 L369.6,219.8 L370.9,220.3 L372.1,221.5 L373.4,224.0 L374.6,224.0 L375.9,226.8 L377.1,225.1 L378.4,215.0 L379.6,221.1 L380.9,220.0 L382.1,223.3 L383.4,222.8 L384.6,227.6 L385.9,227.4 L387.1,228.1 L388.4,226.4 L389.6,227.2 L390.9,226.2 L392.1,223.4 L393.4,225.7 L394.6,225.1 L395.9,221.8 L397.1,222.9 L398.4,221.6 L399.6,226.1 L400.9,219.9 L402.1,222.2 L403.4,227.3 L404.6,222.6 L405.9,229.7 L407.1,226.1 L408.4,218.6 L409.6,218.4 L410.9,227.5 L412.1,223.5 L413.4,221.9 L414.6,224.8 L415.9,228.6 L417.1,223.9 L418.4,220.9 L419.6,227.4 L420.9,220.9 L422.1,221.0 L423.4,228.7 L424.6,224.3 L425.9,220.2 L427.1,220.7 L428.4,224.3 L429.6,224.3 L430.9,213.5 L432.1,225.8 L433.4,218.0 L434.6,220.6 L435.9,222.0 L437.1,218.6 L438.4,220.3 L439.6,220.5 L440.9,220.2 L442.1,215.5 L443.4,213.2 L444.6,222.4 L445.9,222.3 L447.1,221.2 L448.4,218.3 L449.6,217.2 L450.9,213.8 L452.1,220.8 L453.4,217.2 L454.6,213.7 L455.9,212.2 L457.1,212.5 L458.4,213.9 L459.6,222.9 L460.9,211.6 L462.1,210.7 L463.4,215.2 L464.6,215.1 L465.9,215.5 L467.1,216.0 L468.4,215.4 L469.6,213.4 L470.9,214.0 L472.1,212.0 L473.4,211.9 L474.6,212.3 L475.9,214.1 L477.1,211.5 L478.4,210.9 L479.6,210.9 L480.9,213.1 L482.1,213.5 L483.4,207.0 L484.6,210.2 L485.9,206.2 L487.1,207.8 L488.4,207.7 L489.6,209.4 L490.9,208.0 L492.1,208.7 L493.4,203.5 L494.6,207.3 L495.9,205.8 L497.1,207.6 L498.4,205.1 L499.6,205.3 L500.9,201.7 L502.1,204.0 L503.4,201.3 L504.6,199.5 L505.9,204.2 L507.1,196.3 L508.4,201.8 L509.6,200.8 L510.9,196.3 L512.1,195.2 L513.4,198.8 L514.6,194.4 L515.9,195.7 L517.1,192.0 L518.4,194.9 L519.6,194.2 L520.9,190.4 L522.1,187.1 L523.4,191.8 L524.6,189.2 L525.9,192.3 L527.1,188.7 L528.4,188.8 L529.6,190.9 L530.9,189.2 L532.1,190.8 L533.4,190.7 L534.6,192.2 L535.9,190.6 L537.1,187.2 L538.4,185.9 L539.6,187.1 L540.9,188.0 L542.1,186.0 L543.4,186.7 L544.6,187.3 L545.9,187.2 L547.1,185.5 L548.4,188.7 L549.6,186.1 L550.9,185.3 L552.1,183.3 L553.4,184.9 L554.6,185.3 L555.9,185.1 L557.1,183.6 L558.4,184.5 L559.6,185.3 L560.9,182.7 L562.1,183.2 L563.4,184.4 L564.6,182.1 L565.9,183.6 L567.1,183.6 L568.4,183.0 L569.6,179.9 L570.9,181.3 L572.1,180.7 L573.4,182.0 L574.6,179.5 L575.9,180.3 L577.1,179.9 L578.4,181.2 L579.6,179.2 L580.9,180.8 L582.1,179.8 L583.4,179.4 L584.6,178.9 L585.9,178.1 L587.1,180.4 L588.4,178.6 L589.6,179.8 L590.9,178.5 L592.1,180.5 L593.4,178.9 L594.6,181.8 L595.9,178.3 L597.1,178.5 L598.4,177.7 L599.6,178.1 L600.9,178.4 L602.1,177.5 L603.4,178.3 L604.6,179.5 L605.9,177.0 L607.1,177.6 L608.4,176.7 L609.6,179.2 L610.9,177.9 L612.1,177.6 L613.4,178.1 L614.6,177.6 L615.9,177.2 L617.1,176.4 L618.4,176.7 L619.6,177.7 L620.9,177.5 L622.1,176.4 L623.4,177.2 L624.6,178.9 L625.9,176.7 L627.1,177.5 L628.4,176.8 L629.6,178.6 L630.9,177.4 L632.1,178.4 L633.4,177.1 L634.6,177.6 L635.9,177.9 L637.1,179.2 L638.4,177.2 L639.6,178.2 L640.9,177.8 L642.1,178.1 L643.4,178.7 L644.6,178.0 L645.9,177.7 L647.1,177.3 L648.4,178.0 L649.6,177.5 L650.9,178.5 L652.1,179.0 L653.4,178.5 L654.6,176.5 L655.9,179.0 L657.1,177.8 L658.4,176.2 L659.6,176.3 L660.9,177.5 L662.1,178.1 L663.4,175.8 L664.6,176.9 L665.9,177.4 L667.1,177.6 L668.4,179.2 L669.6,178.6 L670.9,179.9 L672.1,180.3 L673.4,181.1" stroke="#F01818"/>
<path d="M363.4,244.3 L364.6,241.1 L365.9,242.1 L367.1,236.1 L368.4,237.6 L369.6,241.2 L370.9,244.2 L372.1,244.7 L373.4,242.4 L374.6,235.6 L375.9,243.4 L377.1,240.6 L378.4,241.5 L379.6,245.1 L380.9,242.3 L382.1,245.0 L383.4,245.7 L384.6,241.7 L385.9,244.2 L387.1,235.1 L388.4,242.2 L389.6,238.0 L390.9,237.6 L392.1,241.4 L393.4,238.5 L394.6,242.0 L395.9,241.4 L397.1,237.3 L398.4,242.9 L399.6,241.4 L400.9,242.7 L402.1,241.3 L403.4,237.0 L404.6,242.2 L405.9,238.3 L407.1,233.7 L408.4,241.3 L409.6,241.6 L410.9,238.6 L412.1,228.5 L413.4,232.8 L414.6,240.3 L415.9,242.4 L417.1,234.5 L418.4,237.2 L419.6,236.9 L420.9,236.9 L422.1,240.2 L423.4,232.1 L424.6,227.5 L425.9,233.9 L427.1,235.0 L428.4,230.8 L429.6,235.9 L430.9,232.6 L432.1,236.4 L433.4,226.8 L434.6,228.8 L435.9,231.8 L437.1,233.3 L438.4,234.2 L439.6,232.3 L440.9,228.5 L442.1,233.8 L443.4,237.0 L444.6,234.7 L445.9,234.8 L447.1,231.4 L448.4,236.5 L449.6,229.0 L450.9,228.4 L452.1,228.1 L453.4,231.4 L454.6,227.8 L455.9,224.7 L457.1,229.0 L458.4,232.7 L459.6,234.5 L460.9,223.7 L462.1,229.0 L463.4,229.2 L464.6,228.1 L465.9,222.0 L467.1,230.6 L468.4,227.3 L469.6,222.7 L470.9,229.6 L472.1,225.1 L473.4,231.4 L474.6,231.2 L475.9,222.0 L477.1,221.6 L478.4,222.1 L479.6,224.3 L480.9,223.5 L482.1,226.2 L483.4,218.2 L484.6,219.8 L485.9,218.7 L487.1,222.3 L488.4,219.7 L489.6,224.7 L490.9,220.4 L492.1,218.9 L493.4,221.9 L494.6,218.2 L495.9,220.5 L497.1,219.0 L498.4,218.4 L499.6,220.5 L500.9,217.7 L502.1,215.8 L503.4,219.3 L504.6,218.9 L505.9,212.9 L507.1,218.8 L508.4,210.9 L509.6,210.5 L510.9,212.5 L512.1,210.2 L513.4,207.3 L514.6,209.3 L515.9,207.5 L517.1,209.1 L518.4,206.5 L519.6,209.5 L520.9,206.5 L522.1,203.4 L523.4,207.7 L524.6,201.7 L525.9,202.1 L527.1,203.3 L528.4,203.8 L529.6,202.2 L530.9,205.5 L532.1,203.7 L533.4,203.5 L534.6,204.4 L535.9,197.5 L537.1,199.8 L538.4,197.8 L539.6,200.3 L540.9,197.2 L542.1,194.6 L543.4,197.3 L544.6,197.5 L545.9,196.8 L547.1,198.7 L548.4,196.9 L549.6,195.9 L550.9,197.1 L552.1,194.6 L553.4,194.1 L554.6,193.2 L555.9,194.9 L557.1,191.7 L558.4,190.8 L559.6,191.7 L560.9,191.2 L562.1,191.6 L563.4,192.3 L564.6,192.7 L565.9,191.9 L567.1,190.6 L568.4,189.9 L569.6,191.1 L570.9,190.5 L572.1,189.3 L573.4,189.0 L574.6,187.0 L575.9,189.3 L577.1,187.0 L578.4,188.5 L579.6,188.7 L580.9,187.7 L582.1,186.8 L583.4,187.4 L584.6,185.9 L585.9,187.3 L587.1,185.4 L588.4,186.6 L589.6,186.1 L590.9,187.0 L592.1,186.3 L593.4,185.2 L594.6,185.1 L595.9,184.8 L597.1,183.4 L598.4,184.6 L599.6,183.8 L600.9,185.6 L602.1,183.8 L603.4,183.5 L604.6,183.4 L605.9,185.2 L607.1,182.9 L608.4,183.5 L609.6,184.7 L610.9,183.5 L612.1,183.6 L613.4,183.2 L614.6,182.0 L615.9,181.9 L617.1,181.4 L618.4,181.6 L619.6,183.4 L620.9,182.2 L622.1,181.4 L623.4,182.4 L624.6,182.5 L625.9,181.6 L627.1,183.6 L628.4,182.2 L629.6,182.7 L630.9,181.7 L632.1,183.0 L633.4,180.8 L634.6,181.0 L635.9,181.6 L637.1,181.5 L638.4,182.2 L639.6,181.7 L640.9,182.4 L642.1,181.4 L643.4,183.0 L644.6,182.4 L645.9,182.2 L647.1,180.1 L648.4,181.9 L649.6,182.4 L650.9,182.1 L652.1,182.6 L653.4,182.8 L654.6,183.7 L655.9,182.2 L657.1,181.1 L658.4,183.4 L659.6,180.8 L660.9,182.3 L662.1,181.4 L663.4,182.2 L664.6,183.1 L665.9,182.8 L667.1,184.0 L668.4,183.6 L669.6,184.1 L670.9,185.0 L672.1,184.6 L673.4,183.5" stroke="#262626"/>
</g>
<g stroke="#FF1A1A" stroke-width="1.5">
<line x1="194.5" y1="51.4" x2="194.5" y2="119.7"/>
<line x1="165" y1="120.3" x2="165" y2="207.4"/>
<line x1="221.5" y1="115.3" x2="221.5" y2="196.3"/>
<line x1="479.6" y1="69.1" x2="479.6" y2="152.7"/>
<line x1="565.9" y1="57.5" x2="565.9" y2="131.8"/>
<line x1="543.6" y1="138.3" x2="543.6" y2="212.4"/>
</g>
<g font-size="13.6" fill="#FF1A1A" style="fill:#FF1A1A">
<text x="196.2" y="58.6" style="fill:#FF1A1A">592</text>
<text x="165.5" y="220.6" text-anchor="middle" style="fill:#FF1A1A">569</text>
<text x="222.8" y="210" text-anchor="middle" style="fill:#FF1A1A">612</text>
<text x="483" y="65.8" text-anchor="middle" style="fill:#FF1A1A">544</text>
<text x="569" y="63.5" style="fill:#FF1A1A">614</text>
<text x="545.2" y="225.6" text-anchor="middle" style="fill:#FF1A1A">596</text>
</g>
<g font-size="13.3">
<line x1="47.5" y1="12.7" x2="77.5" y2="12.7" stroke="#262626" stroke-width="1.3"/>
<text x="81.1" y="17.4">PT50°</text>
<line x1="116.6" y1="12.7" x2="146.6" y2="12.7" stroke="#F01818" stroke-width="1.3"/>
<text x="150.2" y="17.4">PT52°</text>
<line x1="185.7" y1="12.7" x2="215.7" y2="12.7" stroke="#1F50F0" stroke-width="1.3"/>
<text x="219.3" y="17.4">PT54°</text>
<line x1="254.8" y1="12.7" x2="284.8" y2="12.7" stroke="#35A855" stroke-width="1.3"/>
<text x="288.4" y="17.4">PT56°</text>
<line x1="47.5" y1="28.6" x2="77.5" y2="28.6" stroke="#A055F0" stroke-width="1.3"/>
<text x="81.1" y="33.3">PT58°</text>
<line x1="116.6" y1="28.6" x2="146.6" y2="28.6" stroke="#C09028" stroke-width="1.3"/>
<text x="150.2" y="33.3">PT60°</text>
<line x1="185.7" y1="28.6" x2="215.7" y2="28.6" stroke="#48DCCC" stroke-width="1.3"/>
<text x="219.3" y="33.3">PT62°</text>
<line x1="254.8" y1="28.6" x2="284.8" y2="28.6" stroke="#6E2C34" stroke-width="1.3"/>
<text x="288.4" y="33.3">PT64°</text>
<line x1="47.5" y1="44.5" x2="77.5" y2="44.5" stroke="#808C18" stroke-width="1.3"/>
<text x="81.1" y="49.2">PT66°</text>
<line x1="116.6" y1="44.5" x2="146.6" y2="44.5" stroke="#FF5018" stroke-width="1.3"/>
<text x="150.2" y="49.2">PT68°</text>
<line x1="185.7" y1="44.5" x2="215.7" y2="44.5" stroke="#5088C8" stroke-width="1.3"/>
<text x="219.3" y="49.2">PT70°</text>
</g>
<g font-size="13.3">
<line x1="392.2" y1="14.4" x2="422.2" y2="14.4" stroke="#262626" stroke-width="1.3"/>
<text x="425.8" y="19.1">PT50°</text>
<line x1="461.3" y1="14.4" x2="491.3" y2="14.4" stroke="#F01818" stroke-width="1.3"/>
<text x="494.9" y="19.1">PT52°</text>
<line x1="530.4" y1="14.4" x2="560.4" y2="14.4" stroke="#1F50F0" stroke-width="1.3"/>
<text x="564.0" y="19.1">PT54°</text>
<line x1="599.5" y1="14.4" x2="629.5" y2="14.4" stroke="#35A855" stroke-width="1.3"/>
<text x="633.1" y="19.1">PT56°</text>
<line x1="392.2" y1="30.3" x2="422.2" y2="30.3" stroke="#A055F0" stroke-width="1.3"/>
<text x="425.8" y="35.0">PT58°</text>
<line x1="461.3" y1="30.3" x2="491.3" y2="30.3" stroke="#C09028" stroke-width="1.3"/>
<text x="494.9" y="35.0">PT60°</text>
<line x1="530.4" y1="30.3" x2="560.4" y2="30.3" stroke="#48DCCC" stroke-width="1.3"/>
<text x="564.0" y="35.0">PT62°</text>
<line x1="599.5" y1="30.3" x2="629.5" y2="30.3" stroke="#6E2C34" stroke-width="1.3"/>
<text x="633.1" y="35.0">PT64°</text>
<line x1="392.2" y1="46.2" x2="422.2" y2="46.2" stroke="#808C18" stroke-width="1.3"/>
<text x="425.8" y="50.9">PT66°</text>
<line x1="461.3" y1="46.2" x2="491.3" y2="46.2" stroke="#FF5018" stroke-width="1.3"/>
<text x="494.9" y="50.9">PT68°</text>
<line x1="530.4" y1="46.2" x2="560.4" y2="46.2" stroke="#5088C8" stroke-width="1.3"/>
<text x="564.0" y="50.9">PT70°</text>
</g>
<rect x="18.2" y="2.3" width="311.2" height="250.0" fill="none" stroke="#000" stroke-width="1.7"/>
<text x="18.2" y="265.1" text-anchor="middle" font-size="13.5">450</text>
<line x1="49.3" y1="252.3" x2="49.3" y2="249.7" stroke="#000" stroke-width="1.3"/>
<line x1="80.4" y1="252.3" x2="80.4" y2="247.8" stroke="#000" stroke-width="1.3"/>
<text x="80.4" y="265.1" text-anchor="middle" font-size="13.5">500</text>
<line x1="111.6" y1="252.3" x2="111.6" y2="249.7" stroke="#000" stroke-width="1.3"/>
<line x1="142.7" y1="252.3" x2="142.7" y2="247.8" stroke="#000" stroke-width="1.3"/>
<text x="142.7" y="265.1" text-anchor="middle" font-size="13.5">550</text>
<line x1="173.8" y1="252.3" x2="173.8" y2="249.7" stroke="#000" stroke-width="1.3"/>
<line x1="204.9" y1="252.3" x2="204.9" y2="247.8" stroke="#000" stroke-width="1.3"/>
<text x="204.9" y="265.1" text-anchor="middle" font-size="13.5">600</text>
<line x1="236.0" y1="252.3" x2="236.0" y2="249.7" stroke="#000" stroke-width="1.3"/>
<line x1="267.2" y1="252.3" x2="267.2" y2="247.8" stroke="#000" stroke-width="1.3"/>
<text x="267.2" y="265.1" text-anchor="middle" font-size="13.5">650</text>
<line x1="298.3" y1="252.3" x2="298.3" y2="249.7" stroke="#000" stroke-width="1.3"/>
<text x="329.4" y="265.1" text-anchor="middle" font-size="13.5">700</text>
<rect x="362.9" y="2.2" width="311.4" height="250.1" fill="none" stroke="#000" stroke-width="1.7"/>
<text x="362.9" y="265.1" text-anchor="middle" font-size="12">450</text>
<line x1="394.0" y1="252.3" x2="394.0" y2="249.7" stroke="#000" stroke-width="1.3"/>
<line x1="425.2" y1="252.3" x2="425.2" y2="247.8" stroke="#000" stroke-width="1.3"/>
<text x="425.2" y="265.1" text-anchor="middle" font-size="12">500</text>
<line x1="456.3" y1="252.3" x2="456.3" y2="249.7" stroke="#000" stroke-width="1.3"/>
<line x1="487.5" y1="252.3" x2="487.5" y2="247.8" stroke="#000" stroke-width="1.3"/>
<text x="487.5" y="265.1" text-anchor="middle" font-size="12">550</text>
<line x1="518.6" y1="252.3" x2="518.6" y2="249.7" stroke="#000" stroke-width="1.3"/>
<line x1="549.7" y1="252.3" x2="549.7" y2="247.8" stroke="#000" stroke-width="1.3"/>
<text x="549.7" y="265.1" text-anchor="middle" font-size="12">600</text>
<line x1="580.9" y1="252.3" x2="580.9" y2="249.7" stroke="#000" stroke-width="1.3"/>
<line x1="612.0" y1="252.3" x2="612.0" y2="247.8" stroke="#000" stroke-width="1.3"/>
<text x="612.0" y="265.1" text-anchor="middle" font-size="12">650</text>
<line x1="643.2" y1="252.3" x2="643.2" y2="249.7" stroke="#000" stroke-width="1.3"/>
<text x="674.3" y="265.1" text-anchor="middle" font-size="12">700</text>
<text x="18.6" y="26.6" font-size="25">(a)</text>
<text x="363.6" y="26.6" font-size="25">(b)</text>
<text x="173.8" y="280.8" text-anchor="middle" font-size="15.5">Wavenumber / nm</text>
<text x="521.9" y="278.7" text-anchor="middle" font-size="15.5">Wavenumber / nm</text>
<text transform="translate(13.1,126.6) rotate(-90)" text-anchor="middle" font-size="15.4">Reflection / %</text>
<text transform="translate(358.4,121.3) rotate(-90)" text-anchor="middle" font-size="15.4">Reflection / %</text>
</svg>
</body></html>
